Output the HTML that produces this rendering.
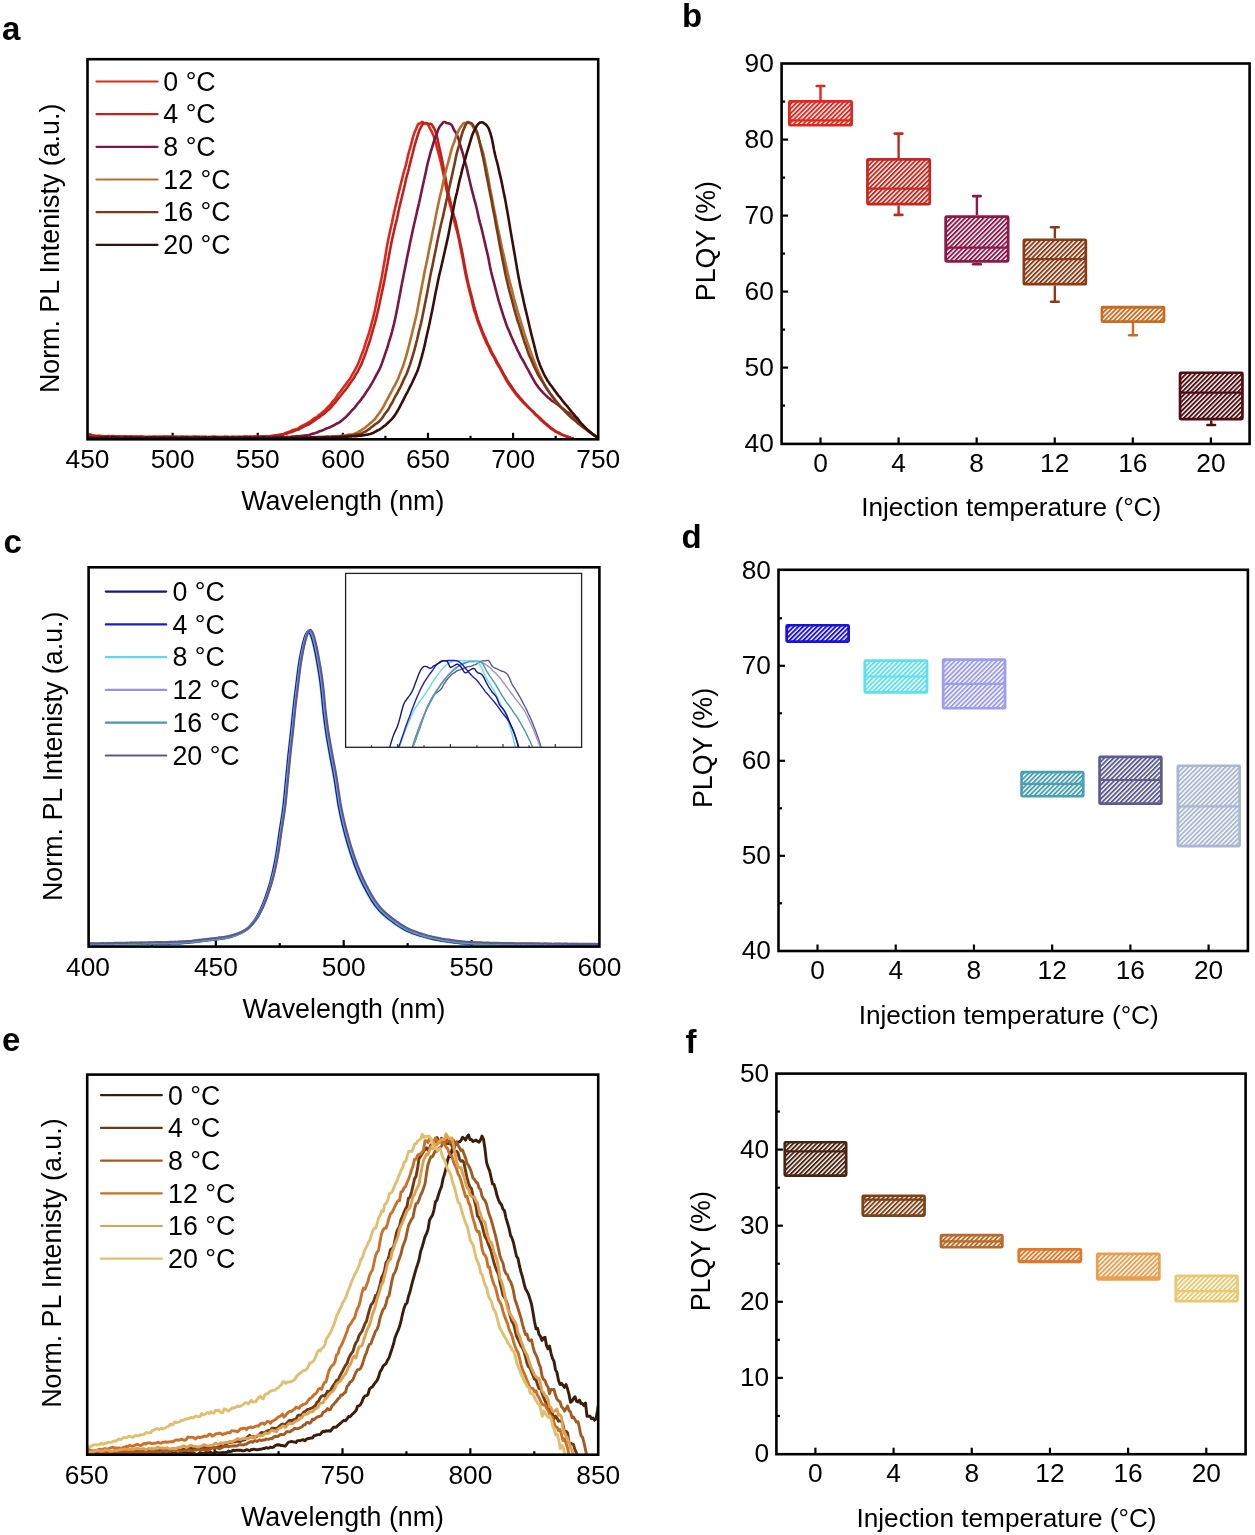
<!DOCTYPE html><html><head><meta charset="utf-8"><title>Figure</title><style>html,body{margin:0;padding:0;background:#fff;width:1255px;height:1535px;overflow:hidden}text{font-family:"Liberation Sans",sans-serif}svg{will-change:transform}</style></head><body><svg width="1255" height="1535" viewBox="0 0 1255 1535" font-family="'Liberation Sans', sans-serif" style="position:absolute;left:0;top:0"><rect width="1255" height="1535" fill="#fff"/><defs><clipPath id="ca"><rect x="87.5" y="59.2" width="510.7" height="379.1"/></clipPath><pattern id="h0" patternUnits="userSpaceOnUse" width="3.29" height="3.29" patternTransform="rotate(45)"><rect width="3.29" height="3.29" fill="#fff"/><rect x="0" y="0" width="1.91" height="3.29" fill="#e4261e"/></pattern><pattern id="h1" patternUnits="userSpaceOnUse" width="3.29" height="3.29" patternTransform="rotate(45)"><rect width="3.29" height="3.29" fill="#fff"/><rect x="0" y="0" width="1.91" height="3.29" fill="#c4281e"/></pattern><pattern id="h2" patternUnits="userSpaceOnUse" width="3.29" height="3.29" patternTransform="rotate(45)"><rect width="3.29" height="3.29" fill="#fff"/><rect x="0" y="0" width="1.91" height="3.29" fill="#8c1a48"/></pattern><pattern id="h3" patternUnits="userSpaceOnUse" width="3.29" height="3.29" patternTransform="rotate(45)"><rect width="3.29" height="3.29" fill="#fff"/><rect x="0" y="0" width="1.91" height="3.29" fill="#8a3c16"/></pattern><pattern id="h4" patternUnits="userSpaceOnUse" width="3.29" height="3.29" patternTransform="rotate(45)"><rect width="3.29" height="3.29" fill="#fff"/><rect x="0" y="0" width="1.91" height="3.29" fill="#c66e24"/></pattern><pattern id="h5" patternUnits="userSpaceOnUse" width="3.29" height="3.29" patternTransform="rotate(45)"><rect width="3.29" height="3.29" fill="#fff"/><rect x="0" y="0" width="1.91" height="3.29" fill="#4e0e12"/></pattern><clipPath id="cc"><rect x="88.6" y="567.3" width="510.8" height="378.3"/></clipPath><clipPath id="ci"><rect x="345.6" y="573.4" width="236" height="173.9"/></clipPath><pattern id="h6" patternUnits="userSpaceOnUse" width="3.29" height="3.29" patternTransform="rotate(45)"><rect width="3.29" height="3.29" fill="#fff"/><rect x="0" y="0" width="1.91" height="3.29" fill="#1a10e0"/></pattern><pattern id="h7" patternUnits="userSpaceOnUse" width="3.29" height="3.29" patternTransform="rotate(45)"><rect width="3.29" height="3.29" fill="#fff"/><rect x="0" y="0" width="1.91" height="3.29" fill="#60e0ec"/></pattern><pattern id="h8" patternUnits="userSpaceOnUse" width="3.29" height="3.29" patternTransform="rotate(45)"><rect width="3.29" height="3.29" fill="#fff"/><rect x="0" y="0" width="1.91" height="3.29" fill="#9c9cf0"/></pattern><pattern id="h9" patternUnits="userSpaceOnUse" width="3.29" height="3.29" patternTransform="rotate(45)"><rect width="3.29" height="3.29" fill="#fff"/><rect x="0" y="0" width="1.91" height="3.29" fill="#4aa0b0"/></pattern><pattern id="h10" patternUnits="userSpaceOnUse" width="3.29" height="3.29" patternTransform="rotate(45)"><rect width="3.29" height="3.29" fill="#fff"/><rect x="0" y="0" width="1.91" height="3.29" fill="#5c5c90"/></pattern><pattern id="h11" patternUnits="userSpaceOnUse" width="3.29" height="3.29" patternTransform="rotate(45)"><rect width="3.29" height="3.29" fill="#fff"/><rect x="0" y="0" width="1.91" height="3.29" fill="#a8b8d0"/></pattern><clipPath id="ce"><rect x="87.2" y="1074.6" width="511" height="379.1"/></clipPath><pattern id="h12" patternUnits="userSpaceOnUse" width="3.29" height="3.29" patternTransform="rotate(45)"><rect width="3.29" height="3.29" fill="#fff"/><rect x="0" y="0" width="1.91" height="3.29" fill="#4a2410"/></pattern><pattern id="h13" patternUnits="userSpaceOnUse" width="3.29" height="3.29" patternTransform="rotate(45)"><rect width="3.29" height="3.29" fill="#fff"/><rect x="0" y="0" width="1.91" height="3.29" fill="#7e4216"/></pattern><pattern id="h14" patternUnits="userSpaceOnUse" width="3.29" height="3.29" patternTransform="rotate(45)"><rect width="3.29" height="3.29" fill="#fff"/><rect x="0" y="0" width="1.91" height="3.29" fill="#b86a28"/></pattern><pattern id="h15" patternUnits="userSpaceOnUse" width="3.29" height="3.29" patternTransform="rotate(45)"><rect width="3.29" height="3.29" fill="#fff"/><rect x="0" y="0" width="1.91" height="3.29" fill="#e07828"/></pattern><pattern id="h16" patternUnits="userSpaceOnUse" width="3.29" height="3.29" patternTransform="rotate(45)"><rect width="3.29" height="3.29" fill="#fff"/><rect x="0" y="0" width="1.91" height="3.29" fill="#e8a050"/></pattern><pattern id="h17" patternUnits="userSpaceOnUse" width="3.29" height="3.29" patternTransform="rotate(45)"><rect width="3.29" height="3.29" fill="#fff"/><rect x="0" y="0" width="1.91" height="3.29" fill="#e8c870"/></pattern></defs><text x="2" y="40.3" font-size="33" text-anchor="start" font-weight="bold" fill="#000">a</text><text x="682" y="26.6" font-size="33" text-anchor="start" font-weight="bold" fill="#000">b</text><text x="3.5" y="552.5" font-size="33" text-anchor="start" font-weight="bold" fill="#000">c</text><text x="681.5" y="547.8" font-size="33" text-anchor="start" font-weight="bold" fill="#000">d</text><text x="2" y="1050.6" font-size="33" text-anchor="start" font-weight="bold" fill="#000">e</text><text x="685.5" y="1052.6" font-size="33" text-anchor="start" font-weight="bold" fill="#000">f</text><line x1="130.06" y1="439.3" x2="130.06" y2="435.8" stroke="#000" stroke-width="2.2" stroke-linecap="butt"/><line x1="172.62" y1="439.3" x2="172.62" y2="432.8" stroke="#000" stroke-width="2.2" stroke-linecap="butt"/><line x1="215.18" y1="439.3" x2="215.18" y2="435.8" stroke="#000" stroke-width="2.2" stroke-linecap="butt"/><line x1="257.73" y1="439.3" x2="257.73" y2="432.8" stroke="#000" stroke-width="2.2" stroke-linecap="butt"/><line x1="300.29" y1="439.3" x2="300.29" y2="435.8" stroke="#000" stroke-width="2.2" stroke-linecap="butt"/><line x1="342.85" y1="439.3" x2="342.85" y2="432.8" stroke="#000" stroke-width="2.2" stroke-linecap="butt"/><line x1="385.41" y1="439.3" x2="385.41" y2="435.8" stroke="#000" stroke-width="2.2" stroke-linecap="butt"/><line x1="427.97" y1="439.3" x2="427.97" y2="432.8" stroke="#000" stroke-width="2.2" stroke-linecap="butt"/><line x1="470.53" y1="439.3" x2="470.53" y2="435.8" stroke="#000" stroke-width="2.2" stroke-linecap="butt"/><line x1="513.08" y1="439.3" x2="513.08" y2="432.8" stroke="#000" stroke-width="2.2" stroke-linecap="butt"/><line x1="555.64" y1="439.3" x2="555.64" y2="435.8" stroke="#000" stroke-width="2.2" stroke-linecap="butt"/><path d="M88 434.25L89 434.42L90 434.35L91 434.73L92 435.3L93 435.59L94 435.75L95 435.85L96 435.85L97 435.85L98 435.81L99 435.71L100 435.79L101 435.96L102 436.08L103 436.29L104 436.48L105 436.47L106 436.39L107 436.34L108 436.17L109 436.12L110 436.28L111 436.26L112 436.05L113 436.07L114 436.26L115 436.39L116 436.54L117 436.58L118 436.53L119 436.57L120 436.6L121 436.61L122 436.61L123 436.52L124 436.44L125 436.5L126 436.61L127 436.58L128 436.62L129 436.79L130 436.7L131 436.63L132 436.8L133 436.9L134 436.81L135 436.77L136 436.66L137 436.57L138 436.78L139 436.88L140 436.76L141 436.62L142 436.46L143 436.44L144 436.65L145 436.79L146 436.77L147 436.85L148 436.93L149 436.9L150 436.97L151 436.95L152 436.79L153 436.72L154 436.66L155 436.78L156 436.86L157 436.72L158 436.68L159 436.75L160 436.81L161 436.8L162 436.8L163 436.82L164 436.77L165 436.76L166 436.91L167 436.94L168 436.77L169 436.84L170 437L171 436.83L172 436.75L173 436.87L174 436.97L175 436.97L176 436.89L177 436.96L178 437.11L179 437.06L180 436.97L181 437.02L182 436.85L183 436.66L184 436.77L185 436.92L186 436.98L187 437.05L188 437.09L189 437.04L190 437.09L191 437.06L192 436.72L193 436.61L194 436.74L195 436.65L196 436.55L197 436.69L198 436.7L199 436.7L200 437.04L201 437.29L202 437.2L203 437.02L204 436.92L205 436.88L206 436.91L207 436.95L208 436.98L209 437.04L210 437.15L211 437.24L212 437.1L213 436.75L214 436.68L215 436.88L216 436.96L217 437.01L218 437.05L219 437.07L220 437.13L221 437.12L222 437L223 436.99L224 437.12L225 437.15L226 437.12L227 437.13L228 437.13L229 437.05L230 436.98L231 436.91L232 436.8L233 436.79L234 436.85L235 436.82L236 436.92L237 437.07L238 436.89L239 436.93L240 437.12L241 436.99L242 436.96L243 436.97L244 436.77L245 436.55L246 436.55L247 436.75L248 436.73L249 436.57L250 436.64L251 436.77L252 436.86L253 436.79L254 436.62L255 436.61L256 436.75L257 437.01L258 437.11L259 436.82L260 436.62L261 436.59L262 436.54L263 436.52L264 436.46L265 436.3L266 436.17L267 436.22L268 436.25L269 436.2L270 436.19L271 436.04L272 435.87L273 435.74L274 435.51L275 435.52L276 435.48L277 435.11L278 434.9L279 434.91L280 434.8L281 434.5L282 434.23L283 434.02L284 433.61L285 433.15L286 432.88L287 432.53L288 432.11L289 431.81L290 431.49L291 431.06L292 430.48L293 429.95L294 429.65L295 429.53L296 429.27L297 428.83L298 428.35L299 427.81L300 427.13L301 426.43L302 425.97L303 425.5L304 424.88L305 424.4L306 424.05L307 423.38L308 422.62L309 422.14L310 421.51L311 420.75L312 420.1L313 419.32L314 418.44L315 417.88L316 417.49L317 416.87L318 415.99L319 415.05L320 414.29L321 413.67L322 412.88L323 411.85L324 410.99L325 410.29L326 409.29L327 408.09L328 406.95L329 405.99L330 405.15L331 403.94L332 402.42L333 401.17L334 400.29L335 399.19L336 397.8L337 396.18L338 394.44L339 393.13L340 392.06L341 390.77L342 389.38L343 387.94L344 386.61L345 385.38L346 384L347 382.64L348 381.31L349 379.96L350 378.65L351 377L352 375.03L353 373.28L354 371.69L355 369.91L356 367.94L357 366.06L358 364.04L359 361.57L360 358.93L361 356.31L362 353.71L363 351.21L364 348.37L365 345.04L366 341.94L367 338.96L368 335.93L369 332.82L370 329.33L371 325.62L372 322.04L373 318.45L374 314.4L375 310L376 305.16L377 299.97L378 295.07L379 290.52L380 285.9L381 280.97L382 275.73L383 270.13L384 264.3L385 258.41L386 252.14L387 245.94L388 240.86L389 236.24L390 231.3L391 226.95L392 222.5L393 217.54L394 212.84L395 208.46L396 204.36L397 199.89L398 195.4L399 191.39L400 187.34L401 183.3L402 179.41L403 175.31L404 171.37L405 168.15L406 164.64L407 160.12L408 155.6L409 151.88L410 148.49L411 144.82L412 140.87L413 137.07L414 133.87L415 131.34L416 129.18L417 126.61L418 124.37L419 123.63L420 123.45L421 122.68L422 121.8L423 122.41L424 123.38L425 123.53L426 123.19L427 123.29L428 124.59L429 126.47L430 128.51L431 130.36L432 132.19L433 134.48L434 136.88L435 139.98L436 143.83L437 147.61L438 151.36L439 155.33L440 159.13L441 163.05L442 167.59L443 172.16L444 176.72L445 181.84L446 187.36L447 191.86L448 195.81L449 200.43L450 204.64L451 208.27L452 212.47L453 216.67L454 220.2L455 223.95L456 227.83L457 231.36L458 235.21L459 239.77L460 245.04L461 250.3L462 255.13L463 260.29L464 265.86L465 271.21L466 276.22L467 280.74L468 284.91L469 289.12L470 293.15L471 296.93L472 301.02L473 305.61L474 309.71L475 312.66L476 315.4L477 318.81L478 321.98L479 324.48L480 327.12L481 329.8L482 332.22L483 334.8L484 337.39L485 339.58L486 341.88L487 344.18L488 345.85L489 347.68L490 350.21L491 352.5L492 354.22L493 355.8L494 357.42L495 359.41L496 361.71L497 363.67L498 365.24L499 366.74L500 368.39L501 370.2L502 372.18L503 374.17L504 375.9L505 377.7L506 379.66L507 381.39L508 382.97L509 384.55L510 385.89L511 387.17L512 388.71L513 390.17L514 391.52L515 392.84L516 394.16L517 395.49L518 396.63L519 397.76L520 398.91L521 400.03L522 401.23L523 402.37L524 403.32L525 404.13L526 405.05L527 406.14L528 407.11L529 407.94L530 408.91L531 409.94L532 410.94L533 412.03L534 413.2L535 414.28L536 415.16L537 415.9L538 416.79L539 417.98L540 419.24L541 420.16L542 420.87L543 421.91L544 422.89L545 423.51L546 424.38L547 425.46L548 426.19L549 426.9L550 427.87L551 428.7L552 429.23L553 429.72L554 430.49L555 431.33L556 431.93L557 432.4L558 432.92L559 433.46L560 433.91L561 434.39L562 434.76L563 435.16L564 435.64L565 435.89L566 436.23L567 436.64L568 436.83L569 437.11L570 437.58L571 437.94L572 438.24L573 438.54" fill="none" stroke="#e0271d" stroke-width="2.6" stroke-linejoin="round" stroke-linecap="round" clip-path="url(#ca)"/><path d="M88 434.81L89 434.94L90 435.27L91 435.63L92 435.86L93 435.87L94 435.81L95 435.91L96 436.2L97 436.38L98 436.22L99 436L100 436.14L101 436.43L102 436.33L103 436.13L104 436.18L105 436.21L106 436.24L107 436.3L108 436.38L109 436.5L110 436.49L111 436.46L112 436.6L113 436.58L114 436.39L115 436.38L116 436.44L117 436.44L118 436.45L119 436.56L120 436.63L121 436.56L122 436.5L123 436.5L124 436.45L125 436.49L126 436.6L127 436.68L128 436.87L129 436.79L130 436.58L131 436.62L132 436.67L133 436.73L134 436.69L135 436.55L136 436.65L137 436.84L138 436.87L139 436.8L140 436.8L141 436.74L142 436.7L143 436.83L144 437.04L145 437.19L146 437.26L147 437.17L148 437.09L149 437.02L150 436.87L151 436.94L152 437.05L153 436.96L154 436.91L155 436.96L156 436.97L157 436.91L158 436.9L159 436.96L160 436.91L161 436.89L162 436.91L163 436.76L164 436.63L165 436.77L166 436.97L167 436.91L168 436.74L169 436.78L170 436.88L171 436.78L172 436.78L173 436.89L174 436.84L175 436.86L176 436.92L177 436.92L178 437.03L179 437.11L180 436.92L181 436.68L182 436.66L183 436.82L184 436.95L185 436.97L186 436.92L187 436.86L188 436.84L189 436.89L190 436.96L191 436.96L192 437.1L193 437.27L194 437.08L195 436.94L196 437.14L197 437.09L198 436.96L199 437.06L200 437.02L201 436.88L202 436.82L203 436.84L204 437.01L205 437.12L206 437.05L207 437.15L208 437.18L209 436.98L210 436.93L211 436.91L212 436.78L213 436.8L214 436.95L215 437.01L216 436.95L217 437.01L218 437.1L219 437.12L220 437.14L221 437.13L222 437.19L223 437.28L224 437.18L225 437.08L226 437.01L227 436.88L228 436.92L229 437.09L230 437.19L231 437.2L232 436.97L233 436.9L234 437.18L235 437.15L236 436.97L237 437.06L238 436.92L239 436.69L240 436.74L241 436.94L242 437.05L243 436.91L244 436.83L245 436.85L246 436.79L247 436.79L248 436.95L249 437.09L250 436.99L251 436.74L252 436.69L253 436.77L254 436.74L255 436.61L256 436.69L257 436.99L258 436.95L259 436.74L260 436.85L261 436.76L262 436.4L263 436.37L264 436.53L265 436.58L266 436.5L267 436.41L268 436.49L269 436.71L270 436.64L271 436.21L272 436.13L273 436.23L274 435.91L275 435.64L276 435.64L277 435.63L278 435.54L279 435.25L280 434.98L281 434.88L282 434.87L283 434.75L284 434.33L285 433.84L286 433.7L287 433.63L288 433.14L289 432.59L290 432.38L291 432.27L292 431.94L293 431.46L294 431.13L295 430.75L296 430.17L297 429.83L298 429.67L299 429.28L300 428.67L301 428.14L302 427.66L303 427.08L304 426.46L305 425.92L306 425.46L307 425.17L308 424.81L309 424.14L310 423.57L311 422.99L312 422.27L313 421.5L314 420.66L315 420.14L316 419.51L317 418.51L318 417.91L319 417.51L320 416.69L321 415.78L322 415.05L323 414.39L324 413.74L325 412.93L326 411.94L327 411.02L328 410.27L329 409.5L330 408.48L331 407.36L332 406.12L333 404.82L334 403.79L335 402.84L336 401.59L337 400.12L338 398.83L339 397.75L340 396.54L341 395.21L342 393.96L343 392.75L344 391.54L345 390.32L346 389.08L347 387.78L348 386.3L349 384.76L350 383.4L351 382.06L352 380.62L353 379.29L354 377.79L355 375.84L356 374.12L357 372.73L358 371.05L359 368.99L360 366.96L361 365.11L362 362.85L363 360.16L364 357.53L365 354.91L366 352.1L367 349.07L368 346.13L369 343.29L370 340.09L371 336.71L372 333.12L373 329.48L374 326.24L375 322.78L376 318.89L377 314.79L378 310.53L379 306.21L380 301.45L381 296.53L382 291.86L383 287.35L384 282.62L385 277.26L386 271.91L387 266.72L388 261.25L389 255.85L390 250.28L391 244.66L392 239.74L393 235.43L394 231.03L395 226.55L396 222.62L397 218.61L398 213.81L399 209.09L400 204.82L401 200.72L402 196.73L403 192.49L404 188.29L405 183.95L406 179.1L407 175.23L408 172.12L409 168.06L410 163.58L411 159.69L412 156.04L413 152.04L414 147.83L415 144.01L416 140.76L417 137.59L418 134.35L419 131.38L420 128.84L421 127.03L422 125.41L423 123.59L424 122.94L425 123.17L426 123.14L427 123.35L428 123.79L429 124.01L430 123.76L431 123.73L432 124.93L433 126.49L434 128.16L435 130.31L436 132.86L437 136.52L438 141.31L439 146.01L440 150.33L441 154.72L442 159.64L443 164.84L444 170.17L445 175.56L446 180.95L447 186.4L448 191.56L449 196.09L450 200.18L451 204.41L452 208.71L453 212.64L454 216.12L455 219.26L456 223.21L457 228.07L458 232.79L459 237.3L460 241.75L461 246.41L462 251.27L463 256.52L464 262.14L465 267.53L466 272.74L467 277.68L468 282.2L469 286.39L470 290.26L471 294.09L472 297.98L473 302.1L474 306.09L475 309.61L476 313.12L477 316.49L478 319.57L479 322.35L480 324.91L481 327.8L482 330.53L483 332.74L484 334.98L485 337.36L486 339.62L487 341.92L488 344.26L489 346.11L490 348.06L491 350.52L492 352.59L493 354.35L494 356.13L495 357.85L496 359.73L497 361.78L498 363.74L499 365.52L500 367.16L501 368.84L502 370.77L503 372.87L504 374.67L505 376.15L506 377.86L507 379.81L508 381.54L509 382.95L510 384.28L511 385.79L512 387.39L513 388.77L514 390.12L515 391.7L516 393.09L517 394.17L518 395.25L519 396.63L520 397.9L521 398.86L522 400.1L523 401.32L524 402.35L525 403.46L526 404.58L527 405.72L528 406.73L529 407.78L530 408.93L531 409.91L532 410.68L533 411.36L534 412.33L535 413.55L536 414.57L537 415.45L538 416.33L539 417.17L540 418.08L541 419.02L542 420L543 420.89L544 421.77L545 422.86L546 423.83L547 424.45L548 425.26L549 426.23L550 427.08L551 427.94L552 428.62L553 429.23L554 430.04L555 430.83L556 431.4L557 431.89L558 432.3L559 432.62L560 433.26L561 434.07L562 434.6L563 435L564 435.37L565 435.72L566 436.1L567 436.48L568 436.88L569 437.21L570 437.58L571 437.96L572 438.26L573 438.56" fill="none" stroke="#c2211b" stroke-width="2.6" stroke-linejoin="round" stroke-linecap="round" clip-path="url(#ca)"/><path d="M88 437.11L89 437.24L90 437.44L91 437.29L92 437.04L93 437.07L94 437.14L95 437.09L96 437.04L97 437.16L98 437.36L99 437.45L100 437.39L101 437.21L102 437.21L103 437.29L104 437.2L105 437.23L106 437.2L107 437.06L108 437.05L109 437.13L110 437.23L111 437.34L112 437.3L113 437.1L114 437.07L115 437.18L116 437.15L117 437.01L118 437.08L119 437.16L120 437.14L121 437.29L122 437.4L123 437.45L124 437.37L125 437.14L126 437.08L127 437.23L128 437.39L129 437.37L130 437.19L131 437.09L132 437.09L133 437.12L134 437.19L135 437.36L136 437.48L137 437.31L138 437.23L139 437.25L140 437.16L141 437.16L142 437.3L143 437.29L144 437.24L145 437.34L146 437.33L147 437.33L148 437.43L149 437.48L150 437.46L151 437.36L152 437.31L153 437.25L154 437.25L155 437.32L156 437.18L157 437.2L158 437.45L159 437.32L160 437.24L161 437.42L162 437.43L163 437.34L164 437.23L165 437.1L166 436.94L167 436.88L168 437.04L169 437.27L170 437.53L171 437.58L172 437.37L173 437.31L174 437.27L175 437.14L176 437L177 436.96L178 437.03L179 437.09L180 437.17L181 437.28L182 437.41L183 437.4L184 437.39L185 437.48L186 437.43L187 437.32L188 437.27L189 437.34L190 437.47L191 437.48L192 437.44L193 437.38L194 437.31L195 437.24L196 437.24L197 437.38L198 437.4L199 437.36L200 437.38L201 437.32L202 437.34L203 437.44L204 437.33L205 437.22L206 437.19L207 437.22L208 437.39L209 437.38L210 437.43L211 437.72L212 437.72L213 437.49L214 437.45L215 437.58L216 437.57L217 437.4L218 437.38L219 437.48L220 437.46L221 437.45L222 437.35L223 437.14L224 436.96L225 436.9L226 437.19L227 437.38L228 437.32L229 437.45L230 437.5L231 437.36L232 437.3L233 437.26L234 437.18L235 437.21L236 437.31L237 437.42L238 437.39L239 437.31L240 437.31L241 437.24L242 437.25L243 437.33L244 437.31L245 437.3L246 437.29L247 437.21L248 437.17L249 437.29L250 437.4L251 437.47L252 437.54L253 437.26L254 436.91L255 437.16L256 437.47L257 437.36L258 437.17L259 437.22L260 437.44L261 437.51L262 437.43L263 437.43L264 437.5L265 437.34L266 437.16L267 437.24L268 437.26L269 437.23L270 437.26L271 437.03L272 436.88L273 437.21L274 437.34L275 437.13L276 437.05L277 437L278 436.93L279 436.98L280 436.99L281 436.88L282 436.8L283 436.88L284 437.12L285 437.18L286 437.04L287 436.84L288 436.78L289 436.96L290 436.95L291 436.74L292 436.64L293 436.46L294 436.46L295 436.48L296 436.21L297 436.1L298 436.25L299 436.25L300 436.12L301 436L302 435.87L303 435.82L304 435.63L305 435.42L306 435.29L307 435.22L308 435.25L309 435.11L310 434.7L311 434.24L312 433.85L313 433.62L314 433.43L315 433.14L316 432.79L317 432.46L318 432.02L319 431.43L320 431.08L321 430.95L322 430.56L323 430.07L324 429.69L325 429.17L326 428.58L327 428.15L328 427.92L329 427.62L330 427.23L331 426.75L332 426.18L333 425.72L334 425.27L335 424.63L336 424L337 423.52L338 423.05L339 422.56L340 421.93L341 421.12L342 420.29L343 419.41L344 418.57L345 417.8L346 416.98L347 415.88L348 414.72L349 413.73L350 412.66L351 411.46L352 410.26L353 409.32L354 408.5L355 407.31L356 405.93L357 404.49L358 403.18L359 402.07L360 400.92L361 399.6L362 398.16L363 396.95L364 395.61L365 394L366 392.46L367 390.9L368 389.42L369 388.09L370 386.54L371 384.71L372 383.08L373 381.43L374 379.49L375 377.62L376 375.71L377 373.83L378 372.05L379 370.22L380 368.21L381 365.81L382 363.08L383 360.2L384 357.36L385 354.36L386 351.37L387 348.6L388 345.3L389 341.75L390 338.54L391 335.38L392 331.79L393 327.81L394 323.87L395 319.48L396 314.67L397 309.83L398 304.55L399 299.15L400 293.9L401 288.48L402 283.26L403 278.16L404 273L405 268.15L406 263.17L407 257.9L408 253.13L409 248.48L410 243.32L411 238.53L412 234L413 229.35L414 224.83L415 220.44L416 216.21L417 211.72L418 207.34L419 203.32L420 198.81L421 193.97L422 189.25L423 184.7L424 180.25L425 175.87L426 171.2L427 166.18L428 162.01L429 158.39L430 154.46L431 150.97L432 147.81L433 144.4L434 141.1L435 138.4L436 136.01L437 133.02L438 130.01L439 127.87L440 126.19L441 125.01L442 123.81L443 122.6L444 122L445 121.99L446 122.67L447 122.99L448 123.2L449 123.59L450 123.81L451 124.48L452 125.56L453 127.48L454 129.93L455 131.4L456 132.98L457 134.99L458 137.07L459 140.54L460 144.24L461 147.58L462 150.92L463 154.09L464 158.1L465 161.98L466 165.1L467 169.07L468 173.75L469 178.05L470 182.21L471 186.58L472 190.58L473 194.32L474 198.27L475 201.95L476 205.43L477 209.69L478 214.46L479 218.91L480 222.84L481 226.33L482 230.33L483 234.74L484 238.98L485 243.36L486 247.72L487 251.82L488 256.1L489 261.25L490 266.6L491 271.28L492 275.4L493 279.18L494 282.85L495 286.68L496 290.61L497 294.4L498 298.22L499 301.79L500 304.97L501 308.14L502 311.37L503 314.67L504 317.67L505 320.52L506 323.55L507 326.36L508 328.67L509 330.81L510 333.2L511 335.67L512 337.93L513 340.18L514 342.58L515 344.77L516 346.8L517 349.1L518 351.14L519 352.88L520 355.14L521 357.23L522 358.8L523 360.47L524 362.24L525 364.17L526 366.11L527 367.9L528 369.6L529 371.41L530 373.32L531 375.17L532 377.03L533 378.83L534 380.54L535 382.36L536 383.93L537 385.26L538 386.8L539 388.15L540 389.2L541 390.29L542 391.43L543 392.6L544 393.64L545 394.6L546 395.6L547 396.49L548 397.46L549 398.28L550 398.93L551 399.97L552 400.87L553 401.38L554 402.02L555 402.73L556 403.41L557 404.08L558 404.83L559 405.72L560 406.5L561 407.23L562 408.11L563 408.89L564 409.48L565 410.25L566 411.31L567 412.01L568 412.41L569 413.22L570 414.37L571 415.52L572 416.45L573 417.18L574 418.08L575 418.94L576 419.73L577 420.69L578 421.63L579 422.51L580 423.33L581 424.06L582 424.96L583 425.99L584 426.91L585 427.8L586 428.7L587 429.37L588 430.04L589 430.91L590 431.78L591 432.65L592 433.52L593 434.28L594 434.99L595 435.61L596 436.24L597 436.94L598 437.53" fill="none" stroke="#7c1643" stroke-width="2.6" stroke-linejoin="round" stroke-linecap="round" clip-path="url(#ca)"/><path d="M88 437.6L89 437.33L90 437.36L91 437.43L92 437.39L93 437.32L94 437.22L95 437.29L96 437.59L97 437.88L98 437.71L99 437.45L100 437.4L101 437.33L102 437.3L103 437.42L104 437.52L105 437.56L106 437.59L107 437.54L108 437.59L109 437.73L110 437.63L111 437.46L112 437.48L113 437.68L114 437.76L115 437.57L116 437.52L117 437.55L118 437.43L119 437.46L120 437.63L121 437.63L122 437.59L123 437.41L124 437.25L125 437.39L126 437.34L127 437.25L128 437.47L129 437.58L130 437.42L131 437.34L132 437.43L133 437.58L134 437.72L135 437.69L136 437.64L137 437.64L138 437.49L139 437.41L140 437.55L141 437.6L142 437.46L143 437.4L144 437.32L145 437.25L146 437.46L147 437.5L148 437.33L149 437.34L150 437.43L151 437.41L152 437.24L153 437.3L154 437.6L155 437.55L156 437.27L157 437.32L158 437.47L159 437.54L160 437.59L161 437.47L162 437.4L163 437.48L164 437.61L165 437.56L166 437.34L167 437.37L168 437.65L169 437.75L170 437.71L171 437.71L172 437.57L173 437.39L174 437.31L175 437.44L176 437.53L177 437.37L178 437.31L179 437.44L180 437.54L181 437.51L182 437.27L183 437.21L184 437.47L185 437.7L186 437.68L187 437.55L188 437.49L189 437.5L190 437.54L191 437.54L192 437.46L193 437.46L194 437.53L195 437.58L196 437.72L197 437.93L198 437.94L199 437.65L200 437.32L201 437.29L202 437.44L203 437.39L204 437.32L205 437.57L206 437.63L207 437.34L208 437.25L209 437.34L210 437.5L211 437.71L212 437.78L213 437.65L214 437.59L215 437.68L216 437.78L217 437.79L218 437.65L219 437.44L220 437.36L221 437.48L222 437.68L223 437.66L224 437.47L225 437.45L226 437.49L227 437.38L228 437.37L229 437.66L230 437.82L231 437.59L232 437.34L233 437.24L234 437.29L235 437.54L236 437.64L237 437.58L238 437.55L239 437.54L240 437.43L241 437.29L242 437.35L243 437.44L244 437.38L245 437.34L246 437.35L247 437.46L248 437.56L249 437.49L250 437.51L251 437.63L252 437.74L253 437.62L254 437.4L255 437.45L256 437.5L257 437.54L258 437.68L259 437.75L260 437.71L261 437.68L262 437.69L263 437.56L264 437.51L265 437.56L266 437.62L267 437.8L268 437.9L269 437.83L270 437.61L271 437.46L272 437.54L273 437.57L274 437.5L275 437.51L276 437.62L277 437.66L278 437.58L279 437.55L280 437.42L281 437.3L282 437.28L283 437.32L284 437.51L285 437.65L286 437.62L287 437.69L288 437.76L289 437.65L290 437.52L291 437.38L292 437.33L293 437.38L294 437.37L295 437.47L296 437.61L297 437.64L298 437.51L299 437.42L300 437.46L301 437.44L302 437.44L303 437.47L304 437.45L305 437.38L306 437.32L307 437.22L308 437.12L309 437.15L310 437.26L311 437.47L312 437.4L313 437.11L314 437.12L315 437.12L316 437.05L317 437.09L318 436.94L319 436.76L320 436.83L321 436.91L322 436.82L323 436.74L324 436.85L325 436.81L326 436.56L327 436.49L328 436.51L329 436.58L330 436.7L331 436.52L332 436.23L333 436.17L334 436.36L335 436.49L336 436.27L337 436.11L338 436.07L339 436.09L340 436.08L341 435.86L342 435.71L343 435.64L344 435.44L345 435.31L346 435.33L347 435.15L348 434.85L349 434.61L350 434.5L351 434.54L352 434.45L353 434.21L354 433.91L355 433.47L356 433L357 432.59L358 432.07L359 431.49L360 431.01L361 430.46L362 429.68L363 428.93L364 428.41L365 427.77L366 426.82L367 425.91L368 425.2L369 424.36L370 423.35L371 422.64L372 421.91L373 420.94L374 420.05L375 418.91L376 417.55L377 416.18L378 414.7L379 413.45L380 412.17L381 410.59L382 409.04L383 407.37L384 405.6L385 403.6L386 401.52L387 399.83L388 398.13L389 396.1L390 394.21L391 392.5L392 390.51L393 388.45L394 386.74L395 385L396 382.99L397 381.06L398 378.97L399 376.39L400 373.65L401 371.12L402 368.77L403 366.21L404 363.23L405 359.98L406 356.57L407 353.06L408 349.37L409 345.47L410 341.39L411 337.36L412 333.41L413 329.26L414 325.17L415 321.07L416 316.74L417 312.2L418 306.85L419 301.23L420 296.09L421 290.8L422 285.55L423 280.59L424 275.05L425 269.7L426 265.2L427 260.61L428 255.69L429 250.33L430 245.27L431 240.61L432 235.44L433 230.55L434 225.81L435 220.47L436 215.17L437 210.32L438 205.44L439 200.53L440 196.16L441 192.23L442 188L443 183.02L444 178.43L445 174.54L446 170.5L447 166.57L448 162.98L449 159.3L450 155.37L451 151.39L452 147.61L453 145.02L454 142.78L455 139.56L456 136.4L457 133.97L458 131.99L459 129.72L460 127.72L461 126.55L462 125.35L463 123.93L464 123.06L465 123.11L466 122.98L467 122.52L468 122.43L469 122.8L470 123.23L471 123.78L472 125.08L473 126.82L474 128.74L475 130.52L476 131.78L477 133.51L478 136.57L479 139.84L480 142.85L481 146L482 149.21L483 152.62L484 156.84L485 161.82L486 166.57L487 171.17L488 176.33L489 182.26L490 188.21L491 193.21L492 198.07L493 203.61L494 208.95L495 213.87L496 218.88L497 223.91L498 228.8L499 233.45L500 238.16L501 243.1L502 247.97L503 252.34L504 256.43L505 261.16L506 265.86L507 270.01L508 274.34L509 278.66L510 282.57L511 286.3L512 290.33L513 294.56L514 298.42L515 301.91L516 305.46L517 309.19L518 312.7L519 315.76L520 319.03L521 322.49L522 325.68L523 328.92L524 332.31L525 335.42L526 338.41L527 341.4L528 344.28L529 347.2L530 349.92L531 352.77L532 355.81L533 358.43L534 360.9L535 363.54L536 366.14L537 368.5L538 370.86L539 373.17L540 375.19L541 377.24L542 379.49L543 381.79L544 383.87L545 385.65L546 387.22L547 388.84L548 390.47L549 391.97L550 393.53L551 394.93L552 396.13L553 397.47L554 398.96L555 400.59L556 401.89L557 402.76L558 403.58L559 404.58L560 405.89L561 407.06L562 408.1L563 409.17L564 410.1L565 411.17L566 412.22L567 413.18L568 414.36L569 415.31L570 415.91L571 416.8L572 417.94L573 418.79L574 419.52L575 420.44L576 421.38L577 422.29L578 423.21L579 424.13L580 425.06L581 425.84L582 426.53L583 427.32L584 428.1L585 428.67L586 429.26L587 430.09L588 430.96L589 431.74L590 432.39L591 433.05L592 433.84L593 434.57L594 435.1L595 435.63L596 436.26L597 436.86L598 437.49" fill="none" stroke="#b66f2c" stroke-width="2.6" stroke-linejoin="round" stroke-linecap="round" clip-path="url(#ca)"/><path d="M88 437.59L89 437.52L90 437.36L91 437.38L92 437.74L93 437.84L94 437.68L95 437.69L96 437.65L97 437.61L98 437.67L99 437.6L100 437.49L101 437.51L102 437.6L103 437.65L104 437.62L105 437.57L106 437.52L107 437.55L108 437.66L109 437.7L110 437.68L111 437.61L112 437.55L113 437.76L114 437.8L115 437.42L116 437.19L117 437.36L118 437.62L119 437.74L120 437.79L121 437.77L122 437.69L123 437.64L124 437.65L125 437.63L126 437.49L127 437.49L128 437.72L129 437.79L130 437.55L131 437.38L132 437.52L133 437.67L134 437.71L135 437.63L136 437.52L137 437.69L138 437.71L139 437.5L140 437.61L141 437.77L142 437.75L143 437.88L144 437.98L145 437.77L146 437.53L147 437.53L148 437.62L149 437.6L150 437.56L151 437.62L152 437.61L153 437.41L154 437.19L155 437.28L156 437.6L157 437.78L158 437.79L159 437.65L160 437.54L161 437.61L162 437.54L163 437.38L164 437.52L165 437.79L166 437.78L167 437.66L168 437.55L169 437.55L170 437.66L171 437.6L172 437.49L173 437.48L174 437.49L175 437.64L176 437.7L177 437.66L178 437.68L179 437.62L180 437.53L181 437.49L182 437.52L183 437.56L184 437.5L185 437.44L186 437.42L187 437.36L188 437.34L189 437.49L190 437.69L191 437.78L192 437.89L193 437.97L194 437.76L195 437.68L196 437.74L197 437.65L198 437.6L199 437.56L200 437.46L201 437.43L202 437.58L203 437.58L204 437.57L205 437.8L206 437.8L207 437.61L208 437.51L209 437.54L210 437.62L211 437.73L212 437.7L213 437.53L214 437.46L215 437.41L216 437.36L217 437.44L218 437.59L219 437.76L220 437.76L221 437.62L222 437.59L223 437.71L224 437.83L225 437.75L226 437.6L227 437.46L228 437.45L229 437.55L230 437.59L231 437.52L232 437.47L233 437.53L234 437.64L235 437.74L236 437.74L237 437.63L238 437.52L239 437.51L240 437.49L241 437.49L242 437.55L243 437.58L244 437.66L245 437.75L246 437.72L247 437.54L248 437.37L249 437.4L250 437.39L251 437.37L252 437.55L253 437.6L254 437.61L255 437.74L256 437.76L257 437.61L258 437.51L259 437.6L260 437.61L261 437.58L262 437.71L263 437.61L264 437.39L265 437.41L266 437.52L267 437.71L268 437.7L269 437.46L270 437.43L271 437.54L272 437.67L273 437.82L274 437.77L275 437.65L276 437.53L277 437.4L278 437.57L279 437.72L280 437.59L281 437.54L282 437.75L283 437.89L284 437.68L285 437.56L286 437.59L287 437.49L288 437.51L289 437.62L290 437.63L291 437.63L292 437.73L293 437.61L294 437.28L295 437.23L296 437.52L297 437.75L298 437.7L299 437.6L300 437.62L301 437.7L302 437.71L303 437.6L304 437.57L305 437.77L306 437.76L307 437.67L308 437.85L309 437.8L310 437.47L311 437.37L312 437.59L313 437.66L314 437.42L315 437.37L316 437.53L317 437.48L318 437.57L319 437.92L320 437.94L321 437.63L322 437.41L323 437.24L324 437.06L325 437.08L326 437.04L327 436.86L328 436.88L329 437.05L330 437.08L331 437.05L332 436.99L333 436.74L334 436.5L335 436.44L336 436.6L337 436.72L338 436.67L339 436.54L340 436.34L341 436.23L342 436.14L343 436.18L344 436.4L345 436.28L346 435.92L347 435.77L348 435.67L349 435.54L350 435.47L351 435.3L352 435.13L353 435L354 434.83L355 434.58L356 434.37L357 434.27L358 434.17L359 434.01L360 433.88L361 433.7L362 433.24L363 432.69L364 432.18L365 431.69L366 431.26L367 430.57L368 429.78L369 429.28L370 428.52L371 427.47L372 426.78L373 426.08L374 425.18L375 424.39L376 423.74L377 423.09L378 422.46L379 421.69L380 420.58L381 419.45L382 418.27L383 416.88L384 415.31L385 413.77L386 412.51L387 411.33L388 409.89L389 408.14L390 406.24L391 404.46L392 402.92L393 401.11L394 399L395 396.99L396 395.2L397 393.54L398 391.65L399 389.64L400 387.79L401 385.84L402 383.65L403 381.39L404 379.15L405 377.04L406 375.23L407 372.96L408 370.04L409 367.36L410 364.58L411 361.4L412 358.12L413 354.8L414 351.39L415 347.64L416 343.83L417 339.98L418 335.64L419 331.25L420 327.32L421 323.37L422 318.83L423 313.86L424 308.73L425 303.78L426 298.75L427 293.64L428 288.55L429 283.06L430 277.49L431 272.51L432 267.9L433 262.99L434 257.98L435 253.11L436 248.35L437 243.33L438 238.17L439 233.61L440 229.07L441 224.45L442 220.47L443 216.4L444 211.78L445 207.12L446 202.51L447 197.93L448 193.51L449 189.06L450 184.5L451 179.94L452 175.65L453 171.09L454 166.27L455 161.67L456 156.69L457 152.28L458 148.94L459 145.49L460 141.5L461 137.47L462 133.97L463 130.95L464 128.47L465 126.32L466 124.25L467 122.68L468 122.16L469 122.55L470 122.95L471 123.04L472 123.61L473 125.23L474 126.98L475 128.33L476 129.9L477 132.13L478 135.37L479 139.59L480 144.24L481 148.54L482 152.63L483 157.08L484 161.73L485 166.9L486 172.63L487 177.64L488 182.53L489 188.11L490 193.1L491 197.88L492 203.34L493 208.69L494 213.68L495 219L496 224.91L497 230.26L498 235.25L499 240.96L500 246.51L501 251.57L502 256.78L503 261.87L504 266.8L505 271.99L506 276.82L507 280.98L508 285.25L509 289.4L510 293.16L511 296.84L512 300.45L513 304.21L514 308.05L515 311.54L516 315.12L517 318.76L518 321.72L519 324.63L520 327.76L521 331L522 334.27L523 337.34L524 340.55L525 343.47L526 346.16L527 349.06L528 352.07L529 354.98L530 357.3L531 359.36L532 361.63L533 364.06L534 366.42L535 368.48L536 370.45L537 372.49L538 374.61L539 376.45L540 377.86L541 379.42L542 381.02L543 382.48L544 384.04L545 385.76L546 387.45L547 388.86L548 390.26L549 391.81L550 393.21L551 394.53L552 395.85L553 397.16L554 398.6L555 399.91L556 400.96L557 402.23L558 403.69L559 405.1L560 406.32L561 407.24L562 408.2L563 409.25L564 410.35L565 411.39L566 412.24L567 413.23L568 414.27L569 415.27L570 416.3L571 417.3L572 418.16L573 418.91L574 419.61L575 420.34L576 421.21L577 422.18L578 423.12L579 423.81L580 424.55L581 425.44L582 426.16L583 426.87L584 427.76L585 428.45L586 428.95L587 429.76L588 430.72L589 431.43L590 432.07L591 432.92L592 433.77L593 434.4L594 435.1L595 435.75L596 436.28L597 436.88L598 437.47" fill="none" stroke="#7a3a18" stroke-width="2.6" stroke-linejoin="round" stroke-linecap="round" clip-path="url(#ca)"/><path d="M88 437.79L89 437.84L90 437.71L91 437.61L92 437.76L93 437.78L94 437.7L95 437.76L96 437.8L97 437.76L98 437.76L99 437.72L100 437.63L101 437.6L102 437.67L103 437.75L104 437.72L105 437.62L106 437.57L107 437.62L108 437.67L109 437.75L110 437.91L111 437.74L112 437.31L113 437.28L114 437.53L115 437.65L116 437.71L117 437.87L118 437.91L119 437.67L120 437.71L121 437.97L122 437.95L123 437.79L124 437.57L125 437.47L126 437.62L127 437.65L128 437.51L129 437.53L130 437.59L131 437.57L132 437.63L133 437.71L134 437.68L135 437.68L136 437.8L137 437.87L138 437.74L139 437.66L140 437.71L141 437.74L142 437.71L143 437.68L144 437.75L145 437.68L146 437.52L147 437.59L148 437.7L149 437.68L150 437.53L151 437.51L152 437.63L153 437.67L154 437.75L155 437.71L156 437.56L157 437.71L158 437.85L159 437.69L160 437.63L161 437.76L162 437.83L163 437.81L164 437.62L165 437.49L166 437.57L167 437.69L168 437.78L169 437.67L170 437.43L171 437.5L172 437.78L173 437.8L174 437.66L175 437.69L176 437.78L177 437.84L178 437.85L179 437.78L180 437.69L181 437.73L182 437.68L183 437.48L184 437.54L185 437.61L186 437.54L187 437.61L188 437.69L189 437.76L190 437.78L191 437.85L192 437.92L193 437.77L194 437.52L195 437.57L196 437.82L197 437.75L198 437.62L199 437.66L200 437.74L201 437.8L202 437.76L203 437.66L204 437.64L205 437.65L206 437.64L207 437.81L208 437.84L209 437.45L210 437.33L211 437.78L212 437.99L213 437.66L214 437.52L215 437.64L216 437.6L217 437.56L218 437.66L219 437.72L220 437.7L221 437.7L222 437.64L223 437.56L224 437.55L225 437.56L226 437.57L227 437.49L228 437.58L229 437.81L230 437.78L231 437.72L232 437.73L233 437.67L234 437.67L235 437.76L236 437.69L237 437.62L238 437.69L239 437.61L240 437.47L241 437.5L242 437.7L243 437.81L244 437.66L245 437.51L246 437.44L247 437.62L248 437.8L249 437.69L250 437.62L251 437.73L252 437.84L253 437.95L254 438L255 437.81L256 437.63L257 437.64L258 437.69L259 437.71L260 437.71L261 437.62L262 437.55L263 437.66L264 437.61L265 437.56L266 437.79L267 437.94L268 437.85L269 437.69L270 437.77L271 438.06L272 437.92L273 437.56L274 437.54L275 437.56L276 437.52L277 437.6L278 437.73L279 437.88L280 437.73L281 437.42L282 437.43L283 437.57L284 437.75L285 437.82L286 437.71L287 437.72L288 437.99L289 438L290 437.72L291 437.64L292 437.64L293 437.58L294 437.66L295 437.79L296 437.68L297 437.63L298 437.7L299 437.64L300 437.59L301 437.61L302 437.57L303 437.52L304 437.56L305 437.63L306 437.65L307 437.67L308 437.71L309 437.76L310 437.7L311 437.62L312 437.58L313 437.51L314 437.54L315 437.61L316 437.54L317 437.56L318 437.72L319 437.75L320 437.55L321 437.45L322 437.64L323 437.66L324 437.56L325 437.62L326 437.53L327 437.44L328 437.53L329 437.57L330 437.46L331 437.44L332 437.57L333 437.39L334 437.22L335 437.33L336 437.34L337 437.28L338 437.21L339 437.18L340 437.12L341 437.06L342 437.05L343 436.92L344 436.8L345 436.87L346 436.88L347 436.72L348 436.63L349 436.57L350 436.35L351 436.3L352 436.33L353 436.24L354 436.24L355 436.3L356 436.21L357 435.96L358 435.84L359 435.7L360 435.64L361 435.8L362 435.54L363 435.26L364 435.25L365 434.97L366 434.67L367 434.71L368 434.62L369 434.26L370 433.99L371 433.69L372 433.29L373 432.96L374 432.52L375 431.86L376 431.27L377 430.77L378 430.29L379 429.81L380 429.21L381 428.5L382 427.75L383 426.91L384 426.1L385 425.51L386 424.8L387 423.73L388 422.72L389 421.86L390 420.92L391 419.89L392 418.82L393 417.68L394 416.43L395 414.93L396 413.38L397 411.78L398 410.09L399 408.35L400 406.36L401 404.36L402 402.54L403 400.59L404 398.57L405 396.6L406 394.72L407 392.99L408 391L409 388.83L410 386.84L411 384.96L412 382.96L413 380.79L414 378.66L415 376.52L416 374.29L417 372.02L418 369.41L419 366.38L420 363.01L421 359.43L422 355.86L423 352.04L424 348.09L425 343.74L426 338.97L427 334.53L428 330.22L429 325.76L430 321.07L431 316.3L432 311.58L433 306.54L434 301.16L435 295.72L436 290.71L437 285.99L438 280.96L439 276.15L440 272.06L441 267.97L442 263.56L443 259.17L444 254.76L445 250.27L446 245.86L447 241.38L448 236.86L449 231.9L450 226.38L451 221.08L452 216.09L453 211.15L454 205.77L455 200.44L456 196.07L457 192.23L458 187.78L459 182.73L460 178.65L461 174.97L462 170.45L463 166.46L464 163.36L465 159.83L466 155.9L467 152.38L468 149.15L469 145.83L470 142.38L471 139.01L472 135.82L473 133.14L474 131.07L475 129.27L476 127.29L477 125.41L478 124.26L479 123.32L480 122.55L481 122.42L482 122.35L483 122.47L484 123.32L485 123.96L486 124.64L487 125.91L488 127.26L489 129.2L490 132.09L491 135.45L492 139.24L493 144.34L494 149.76L495 154.38L496 158.51L497 161.95L498 165.9L499 170.63L500 174.92L501 179.11L502 183.82L503 189L504 193.84L505 198.61L506 204.12L507 209.72L508 215.38L509 221.3L510 227.34L511 233.41L512 239.13L513 244.84L514 250.75L515 256.48L516 262.35L517 268.36L518 273.96L519 279.21L520 284.39L521 289.14L522 293.59L523 298.25L524 302.98L525 307.32L526 311.34L527 315.53L528 319.8L529 324.11L530 328.54L531 332.82L532 336.79L533 340.64L534 344.5L535 348.53L536 352.64L537 356.45L538 359.61L539 362.44L540 365.19L541 367.61L542 369.81L543 372.02L544 374.24L545 376.25L546 377.94L547 379.7L548 381.32L549 382.71L550 384.22L551 385.55L552 386.77L553 388.18L554 389.61L555 390.97L556 392.36L557 393.8L558 395.09L559 396.27L560 397.46L561 398.68L562 400.1L563 401.47L564 402.63L565 403.83L566 404.97L567 406.01L568 407.2L569 408.55L570 409.8L571 411.08L572 412.34L573 413.4L574 414.6L575 415.84L576 416.84L577 417.85L578 419.08L579 420.52L580 421.9L581 423.03L582 424.09L583 425.22L584 426.25L585 427.19L586 428.36L587 429.41L588 430.4L589 431.45L590 432.09L591 432.69L592 433.6L593 434.47L594 435.14L595 435.85L596 436.52L597 436.95L598 437.35" fill="none" stroke="#3a0c0a" stroke-width="2.6" stroke-linejoin="round" stroke-linecap="round" clip-path="url(#ca)"/><rect x="87.5" y="59.2" width="510.7" height="380.1" fill="none" stroke="#000" stroke-width="2.6"/><text x="87.5" y="468.3" font-size="26.3" text-anchor="middle" fill="#000">450</text><text x="172.62" y="468.3" font-size="26.3" text-anchor="middle" fill="#000">500</text><text x="257.73" y="468.3" font-size="26.3" text-anchor="middle" fill="#000">550</text><text x="342.85" y="468.3" font-size="26.3" text-anchor="middle" fill="#000">600</text><text x="427.97" y="468.3" font-size="26.3" text-anchor="middle" fill="#000">650</text><text x="513.08" y="468.3" font-size="26.3" text-anchor="middle" fill="#000">700</text><text x="598.2" y="468.3" font-size="26.3" text-anchor="middle" fill="#000">750</text><text x="342.8" y="510.3" font-size="26.8" text-anchor="middle" fill="#000">Wavelength (nm)</text><text x="59.2" y="248.4" font-size="26.8" text-anchor="middle" transform="rotate(-90 59.2 248.4)" fill="#000">Norm. PL Intenisty (a.u.)</text><line x1="96.5" y1="81.5" x2="157.5" y2="81.5" stroke="#e0271d" stroke-width="2.2" stroke-linecap="round"/><text x="163.3" y="90.8" font-size="26.8" text-anchor="start" fill="#000">0 &#176;C</text><line x1="96.5" y1="114.16" x2="157.5" y2="114.16" stroke="#c2211b" stroke-width="2.2" stroke-linecap="round"/><text x="163.3" y="123.46" font-size="26.8" text-anchor="start" fill="#000">4 &#176;C</text><line x1="96.5" y1="146.82" x2="157.5" y2="146.82" stroke="#7c1643" stroke-width="2.2" stroke-linecap="round"/><text x="163.3" y="156.12" font-size="26.8" text-anchor="start" fill="#000">8 &#176;C</text><line x1="96.5" y1="179.48" x2="157.5" y2="179.48" stroke="#b66f2c" stroke-width="2.2" stroke-linecap="round"/><text x="163.3" y="188.78" font-size="26.8" text-anchor="start" fill="#000">12 &#176;C</text><line x1="96.5" y1="212.14" x2="157.5" y2="212.14" stroke="#7a3a18" stroke-width="2.2" stroke-linecap="round"/><text x="163.3" y="221.44" font-size="26.8" text-anchor="start" fill="#000">16 &#176;C</text><line x1="96.5" y1="244.8" x2="157.5" y2="244.8" stroke="#3a0c0a" stroke-width="2.2" stroke-linecap="round"/><text x="163.3" y="254.1" font-size="26.8" text-anchor="start" fill="#000">20 &#176;C</text><line x1="820.5" y1="100" x2="820.5" y2="86" stroke="#e4261e" stroke-width="2.4" stroke-linecap="butt"/><line x1="816.7" y1="86" x2="824.3" y2="86" stroke="#e4261e" stroke-width="2.6" stroke-linecap="round"/><rect x="789.35" y="101.35" width="62.3" height="23.9" rx="1" fill="url(#h0)" stroke="#e4261e" stroke-width="2.7" stroke-linejoin="round"/><line x1="789.35" y1="120.3" x2="851.65" y2="120.3" stroke="#e4261e" stroke-width="2.2" stroke-linecap="butt"/><line x1="898.6" y1="158" x2="898.6" y2="133.6" stroke="#c4281e" stroke-width="2.4" stroke-linecap="butt"/><line x1="894.8" y1="133.6" x2="902.4" y2="133.6" stroke="#c4281e" stroke-width="2.6" stroke-linecap="round"/><line x1="898.6" y1="205.4" x2="898.6" y2="214.9" stroke="#c4281e" stroke-width="2.4" stroke-linecap="butt"/><line x1="894.8" y1="214.9" x2="902.4" y2="214.9" stroke="#c4281e" stroke-width="2.6" stroke-linecap="round"/><rect x="867.45" y="159.35" width="62.3" height="44.7" rx="1" fill="url(#h1)" stroke="#c4281e" stroke-width="2.7" stroke-linejoin="round"/><line x1="867.45" y1="188.7" x2="929.75" y2="188.7" stroke="#c4281e" stroke-width="2.2" stroke-linecap="butt"/><line x1="976.9" y1="215.2" x2="976.9" y2="196.1" stroke="#8c1a48" stroke-width="2.4" stroke-linecap="butt"/><line x1="973.1" y1="196.1" x2="980.7" y2="196.1" stroke="#8c1a48" stroke-width="2.6" stroke-linecap="round"/><line x1="976.9" y1="262.7" x2="976.9" y2="264.3" stroke="#8c1a48" stroke-width="2.4" stroke-linecap="butt"/><line x1="973.1" y1="264.3" x2="980.7" y2="264.3" stroke="#8c1a48" stroke-width="2.6" stroke-linecap="round"/><rect x="945.65" y="216.55" width="62.5" height="44.8" rx="1" fill="url(#h2)" stroke="#8c1a48" stroke-width="2.7" stroke-linejoin="round"/><line x1="945.65" y1="247.7" x2="1008.15" y2="247.7" stroke="#8c1a48" stroke-width="2.2" stroke-linecap="butt"/><line x1="1054.85" y1="238.4" x2="1054.85" y2="227.2" stroke="#8a3c16" stroke-width="2.4" stroke-linecap="butt"/><line x1="1051.05" y1="227.2" x2="1058.65" y2="227.2" stroke="#8a3c16" stroke-width="2.6" stroke-linecap="round"/><line x1="1054.85" y1="285.5" x2="1054.85" y2="301.8" stroke="#8a3c16" stroke-width="2.4" stroke-linecap="butt"/><line x1="1051.05" y1="301.8" x2="1058.65" y2="301.8" stroke="#8a3c16" stroke-width="2.6" stroke-linecap="round"/><rect x="1023.85" y="239.75" width="62" height="44.4" rx="1" fill="url(#h3)" stroke="#8a3c16" stroke-width="2.7" stroke-linejoin="round"/><line x1="1023.85" y1="259.1" x2="1085.85" y2="259.1" stroke="#8a3c16" stroke-width="2.2" stroke-linecap="butt"/><line x1="1133" y1="323" x2="1133" y2="335.2" stroke="#c66e24" stroke-width="2.4" stroke-linecap="butt"/><line x1="1129.2" y1="335.2" x2="1136.8" y2="335.2" stroke="#c66e24" stroke-width="2.6" stroke-linecap="round"/><rect x="1101.95" y="307.15" width="62.1" height="14.5" rx="1" fill="url(#h4)" stroke="#c66e24" stroke-width="2.7" stroke-linejoin="round"/><line x1="1101.95" y1="307.4" x2="1164.05" y2="307.4" stroke="#c66e24" stroke-width="2.2" stroke-linecap="butt"/><line x1="1211.25" y1="420.4" x2="1211.25" y2="425" stroke="#4e0e12" stroke-width="2.4" stroke-linecap="butt"/><line x1="1207.45" y1="425" x2="1215.05" y2="425" stroke="#4e0e12" stroke-width="2.6" stroke-linecap="round"/><rect x="1180.05" y="372.75" width="62.4" height="46.3" rx="1" fill="url(#h5)" stroke="#4e0e12" stroke-width="2.7" stroke-linejoin="round"/><line x1="1180.05" y1="392.7" x2="1242.45" y2="392.7" stroke="#4e0e12" stroke-width="2.2" stroke-linecap="butt"/><rect x="781.6" y="63.5" width="468" height="380.4" fill="none" stroke="#000" stroke-width="2.6"/><line x1="781.6" y1="405.6" x2="785.1" y2="405.6" stroke="#000" stroke-width="2.2" stroke-linecap="butt"/><line x1="781.6" y1="367.6" x2="788.1" y2="367.6" stroke="#000" stroke-width="2.2" stroke-linecap="butt"/><line x1="781.6" y1="329.6" x2="785.1" y2="329.6" stroke="#000" stroke-width="2.2" stroke-linecap="butt"/><line x1="781.6" y1="291.6" x2="788.1" y2="291.6" stroke="#000" stroke-width="2.2" stroke-linecap="butt"/><line x1="781.6" y1="253.6" x2="785.1" y2="253.6" stroke="#000" stroke-width="2.2" stroke-linecap="butt"/><line x1="781.6" y1="215.6" x2="788.1" y2="215.6" stroke="#000" stroke-width="2.2" stroke-linecap="butt"/><line x1="781.6" y1="177.6" x2="785.1" y2="177.6" stroke="#000" stroke-width="2.2" stroke-linecap="butt"/><line x1="781.6" y1="139.6" x2="788.1" y2="139.6" stroke="#000" stroke-width="2.2" stroke-linecap="butt"/><line x1="781.6" y1="101.6" x2="785.1" y2="101.6" stroke="#000" stroke-width="2.2" stroke-linecap="butt"/><text x="773.8" y="451.9" font-size="26.3" text-anchor="end" fill="#000">40</text><text x="773.8" y="375.9" font-size="26.3" text-anchor="end" fill="#000">50</text><text x="773.8" y="299.9" font-size="26.3" text-anchor="end" fill="#000">60</text><text x="773.8" y="223.9" font-size="26.3" text-anchor="end" fill="#000">70</text><text x="773.8" y="147.9" font-size="26.3" text-anchor="end" fill="#000">80</text><text x="773.8" y="71.9" font-size="26.3" text-anchor="end" fill="#000">90</text><line x1="820.5" y1="443.9" x2="820.5" y2="437.4" stroke="#000" stroke-width="2.2" stroke-linecap="butt"/><text x="820.5" y="472.2" font-size="26.3" text-anchor="middle" fill="#000">0</text><line x1="898.58" y1="443.9" x2="898.58" y2="437.4" stroke="#000" stroke-width="2.2" stroke-linecap="butt"/><text x="898.58" y="472.2" font-size="26.3" text-anchor="middle" fill="#000">4</text><line x1="976.66" y1="443.9" x2="976.66" y2="437.4" stroke="#000" stroke-width="2.2" stroke-linecap="butt"/><text x="976.66" y="472.2" font-size="26.3" text-anchor="middle" fill="#000">8</text><line x1="1054.74" y1="443.9" x2="1054.74" y2="437.4" stroke="#000" stroke-width="2.2" stroke-linecap="butt"/><text x="1054.74" y="472.2" font-size="26.3" text-anchor="middle" fill="#000">12</text><line x1="1132.82" y1="443.9" x2="1132.82" y2="437.4" stroke="#000" stroke-width="2.2" stroke-linecap="butt"/><text x="1132.82" y="472.2" font-size="26.3" text-anchor="middle" fill="#000">16</text><line x1="1210.9" y1="443.9" x2="1210.9" y2="437.4" stroke="#000" stroke-width="2.2" stroke-linecap="butt"/><text x="1210.9" y="472.2" font-size="26.3" text-anchor="middle" fill="#000">20</text><text x="1011.2" y="516.4" font-size="26.2" text-anchor="middle" fill="#000">Injection temperature (&#176;C)</text><text x="715.5" y="241.1" font-size="26.8" text-anchor="middle" transform="rotate(-90 715.5 241.1)" fill="#000">PLQY (%)</text><line x1="151.93" y1="946.6" x2="151.93" y2="943.1" stroke="#000" stroke-width="2.2" stroke-linecap="butt"/><line x1="215.85" y1="946.6" x2="215.85" y2="940.1" stroke="#000" stroke-width="2.2" stroke-linecap="butt"/><line x1="279.77" y1="946.6" x2="279.77" y2="943.1" stroke="#000" stroke-width="2.2" stroke-linecap="butt"/><line x1="343.7" y1="946.6" x2="343.7" y2="940.1" stroke="#000" stroke-width="2.2" stroke-linecap="butt"/><line x1="407.62" y1="946.6" x2="407.62" y2="943.1" stroke="#000" stroke-width="2.2" stroke-linecap="butt"/><line x1="471.55" y1="946.6" x2="471.55" y2="940.1" stroke="#000" stroke-width="2.2" stroke-linecap="butt"/><line x1="535.47" y1="946.6" x2="535.47" y2="943.1" stroke="#000" stroke-width="2.2" stroke-linecap="butt"/><path d="M87 945.3L88 945.26L89 945.26L90 945.33L91 945.36L92 945.31L93 945.35L94 945.37L95 945.28L96 945.23L97 945.29L98 945.36L99 945.38L100 945.34L101 945.28L102 945.16L103 945.05L104 945L105 945.01L106 945.06L107 945.05L108 945.03L109 945.06L110 945.03L111 944.96L112 945L113 945.07L114 945L115 944.88L116 944.91L117 944.97L118 944.94L119 944.96L120 944.9L121 944.79L122 944.83L123 944.8L124 944.71L125 944.73L126 944.77L127 944.77L128 944.72L129 944.7L130 944.76L131 944.81L132 944.79L133 944.76L134 944.77L135 944.75L136 944.68L137 944.63L138 944.6L139 944.58L140 944.52L141 944.41L142 944.42L143 944.42L144 944.31L145 944.33L146 944.42L147 944.36L148 944.33L149 944.35L150 944.3L151 944.25L152 944.24L153 944.23L154 944.23L155 944.28L156 944.32L157 944.3L158 944.29L159 944.26L160 944.22L161 944.16L162 944.11L163 944.09L164 944.05L165 943.99L166 944.02L167 944.03L168 943.96L169 943.83L170 943.78L171 943.86L172 943.81L173 943.7L174 943.72L175 943.73L176 943.71L177 943.7L178 943.68L179 943.63L180 943.56L181 943.52L182 943.45L183 943.35L184 943.32L185 943.25L186 943.1L187 943L188 942.91L189 942.85L190 942.76L191 942.63L192 942.56L193 942.48L194 942.38L195 942.26L196 942.11L197 942.03L198 941.96L199 941.75L200 941.57L201 941.47L202 941.35L203 941.19L204 941.03L205 940.87L206 940.75L207 940.65L208 940.55L209 940.5L210 940.44L211 940.27L212 940.12L213 940.06L214 939.93L215 939.77L216 939.65L217 939.5L218 939.35L219 939.25L220 939.14L221 938.95L222 938.79L223 938.67L224 938.55L225 938.34L226 938.09L227 937.92L228 937.73L229 937.51L230 937.22L231 936.87L232 936.55L233 936.24L234 935.96L235 935.63L236 935.18L237 934.77L238 934.39L239 933.86L240 933.34L241 932.83L242 932.29L243 931.82L244 931.27L245 930.54L246 929.74L247 928.84L248 927.86L249 926.86L250 925.75L251 924.61L252 923.49L253 922.24L254 920.91L255 919.53L256 917.96L257 916.14L258 914.21L259 912.21L260 910.08L261 907.9L262 905.67L263 903.24L264 900.61L265 897.87L266 894.99L267 891.96L268 888.76L269 885.45L270 882.03L271 878.24L272 874.16L273 869.75L274 864.91L275 859.73L276 854.05L277 847.5L278 840.49L279 833.42L280 826.81L281 820.58L282 814.07L283 806.58L284 797.21L285 786.49L286 776.04L287 765.83L288 755.94L289 746.79L290 738.1L291 728.87L292 718.55L293 708.79L294 700.31L295 692.34L296 684.27L297 675.82L298 668.03L299 661.73L300 656.1L301 650.97L302 646.4L303 642.36L304 638.65L305 635.78L306 633.86L307 632.23L308 631.74L309 632.73L310 634.51L311 636.85L312 640.25L313 644.05L314 648.31L315 653.04L316 658.13L317 663.63L318 669.43L319 675.74L320 682.85L321 691.15L322 701.67L323 711.44L324 719.88L325 727.63L326 734.54L327 740.64L328 746.28L329 751.79L330 757.26L331 762.5L332 767.7L333 773.03L334 778.67L335 785.06L336 791.95L337 798.71L338 804.84L339 810.14L340 815.07L341 819.7L342 824.08L343 828.19L344 832.07L345 835.85L346 839.53L347 843.03L348 846.37L349 849.7L350 852.92L351 855.85L352 858.72L353 861.63L354 864.4L355 867.08L356 869.68L357 872.15L358 874.55L359 876.95L360 879.3L361 881.54L362 883.64L363 885.61L364 887.49L365 889.35L366 891.22L367 893.14L368 894.98L369 896.64L370 898.3L371 900.07L372 901.68L373 903.14L374 904.62L375 906.06L376 907.31L377 908.43L378 909.57L379 910.7L380 911.8L381 912.77L382 913.68L383 914.66L384 915.56L385 916.33L386 917.15L387 918L388 918.82L389 919.56L390 920.26L391 921.02L392 921.85L393 922.6L394 923.29L395 924.06L396 924.81L397 925.43L398 926.03L399 926.69L400 927.37L401 928L402 928.57L403 929.13L404 929.71L405 930.24L406 930.74L407 931.2L408 931.59L409 932.04L410 932.5L411 932.95L412 933.37L413 933.68L414 934L415 934.39L416 934.81L417 935.16L418 935.44L419 935.77L420 936.12L421 936.33L422 936.51L423 936.78L424 937.11L425 937.41L426 937.69L427 937.97L428 938.22L429 938.46L430 938.69L431 938.94L432 939.19L433 939.46L434 939.73L435 939.93L436 940.05L437 940.15L438 940.24L439 940.43L440 940.77L441 941.05L442 941.15L443 941.3L444 941.51L445 941.62L446 941.69L447 941.77L448 941.94L449 942.18L450 942.3L451 942.35L452 942.51L453 942.65L454 942.72L455 942.85L456 942.97L457 943.12L458 943.27L459 943.39L460 943.45L461 943.52L462 943.61L463 943.69L464 943.78L465 943.85L466 943.96L467 944.08L468 944.16L469 944.25L470 944.32L471 944.31L472 944.29L473 944.38L474 944.49L475 944.53L476 944.57L477 944.55L478 944.49L479 944.55L480 944.61L481 944.57L482 944.56L483 944.63L484 944.73L485 944.84L486 944.84L487 944.75L488 944.7L489 944.74L490 944.79L491 944.86L492 944.92L493 944.88L494 944.88L495 944.95L496 944.96L497 944.93L498 944.96L499 945.02L500 945.03L501 945.02L502 945.04L503 945.13L504 945.17L505 945.12L506 945.17L507 945.2L508 945.16L509 945.24L510 945.29L511 945.26L512 945.3L513 945.32L514 945.27L515 945.23L516 945.2L517 945.22L518 945.27L519 945.34L520 945.39L521 945.32L522 945.29L523 945.39L524 945.44L525 945.41L526 945.37L527 945.33L528 945.39L529 945.49L530 945.5L531 945.47L532 945.46L533 945.43L534 945.4L535 945.43L536 945.43L537 945.38L538 945.35L539 945.39L540 945.48L541 945.52L542 945.47L543 945.43L544 945.45L545 945.48L546 945.49L547 945.49L548 945.58L549 945.69L550 945.66L551 945.59L552 945.62L553 945.71L554 945.74L555 945.66L556 945.61L557 945.71L558 945.79L559 945.78L560 945.76L561 945.77L562 945.78L563 945.78L564 945.78L565 945.75L566 945.72L567 945.72L568 945.73L569 945.76L570 945.85L571 945.88L572 945.78L573 945.77L574 945.84L575 945.84L576 945.84L577 945.87L578 945.87L579 945.85L580 945.9L581 945.87L582 945.77L583 945.79L584 945.85L585 945.88L586 945.86L587 945.83L588 945.85L589 945.89L590 945.89L591 945.94L592 946.01L593 945.95L594 945.86L595 945.88L596 945.89L597 945.86L597.5 945.88" fill="none" stroke="#66d8e8" stroke-width="2.2" stroke-linejoin="round" stroke-linecap="round" clip-path="url(#cc)"/><path d="M87.6 945.01L88.6 945.07L89.6 945.08L90.6 945.02L91.6 944.96L92.6 944.89L93.6 944.83L94.6 944.8L95.6 944.83L96.6 944.88L97.6 944.87L98.6 944.82L99.6 944.76L100.6 944.7L101.6 944.68L102.6 944.71L103.6 944.76L104.6 944.74L105.6 944.69L106.6 944.64L107.6 944.64L108.6 944.66L109.6 944.62L110.6 944.66L111.6 944.66L112.6 944.49L113.6 944.43L114.6 944.5L115.6 944.49L116.6 944.44L117.6 944.46L118.6 944.49L119.6 944.42L120.6 944.36L121.6 944.45L122.6 944.53L123.6 944.45L124.6 944.34L125.6 944.25L126.6 944.21L127.6 944.32L128.6 944.41L129.6 944.29L130.6 944.13L131.6 944.16L132.6 944.21L133.6 944.22L134.6 944.2L135.6 944.1L136.6 944.1L137.6 944.19L138.6 944.2L139.6 944.18L140.6 944.17L141.6 944.11L142.6 944.06L143.6 944.08L144.6 944L145.6 943.94L146.6 944.03L147.6 944.11L148.6 944.09L149.6 944.03L150.6 943.91L151.6 943.82L152.6 943.88L153.6 943.84L154.6 943.72L155.6 943.72L156.6 943.79L157.6 943.84L158.6 943.82L159.6 943.79L160.6 943.73L161.6 943.61L162.6 943.57L163.6 943.62L164.6 943.64L165.6 943.61L166.6 943.58L167.6 943.56L168.6 943.56L169.6 943.52L170.6 943.41L171.6 943.28L172.6 943.21L173.6 943.25L174.6 943.34L175.6 943.36L176.6 943.31L177.6 943.31L178.6 943.35L179.6 943.33L180.6 943.24L181.6 943.17L182.6 943.04L183.6 942.84L184.6 942.74L185.6 942.78L186.6 942.83L187.6 942.75L188.6 942.57L189.6 942.44L190.6 942.28L191.6 942.11L192.6 942.06L193.6 941.96L194.6 941.86L195.6 941.81L196.6 941.68L197.6 941.54L198.6 941.39L199.6 941.25L200.6 941.17L201.6 941.07L202.6 940.88L203.6 940.76L204.6 940.76L205.6 940.63L206.6 940.43L207.6 940.29L208.6 940.17L209.6 940.11L210.6 940.02L211.6 939.85L212.6 939.81L213.6 939.73L214.6 939.56L215.6 939.42L216.6 939.27L217.6 939.09L218.6 938.97L219.6 938.9L220.6 938.75L221.6 938.57L222.6 938.42L223.6 938.28L224.6 938.08L225.6 937.85L226.6 937.67L227.6 937.45L228.6 937.24L229.6 937.09L230.6 936.82L231.6 936.45L232.6 936.11L233.6 935.76L234.6 935.4L235.6 935.07L236.6 934.72L237.6 934.24L238.6 933.8L239.6 933.41L240.6 932.97L241.6 932.48L242.6 931.91L243.6 931.32L244.6 930.69L245.6 929.99L246.6 929.32L247.6 928.55L248.6 927.6L249.6 926.55L250.6 925.46L251.6 924.29L252.6 923.04L253.6 921.76L254.6 920.45L255.6 919.01L256.6 917.43L257.6 915.64L258.6 913.73L259.6 911.78L260.6 909.67L261.6 907.42L262.6 905.13L263.6 902.76L264.6 900.25L265.6 897.57L266.6 894.7L267.6 891.62L268.6 888.38L269.6 885.04L270.6 881.59L271.6 877.83L272.6 873.75L273.6 869.38L274.6 864.58L275.6 859.37L276.6 853.68L277.6 847.1L278.6 840.06L279.6 833.02L280.6 826.46L281.6 820.26L282.6 813.78L283.6 806.29L284.6 796.85L285.6 786.09L286.6 775.64L287.6 765.37L288.6 755.49L289.6 746.4L290.6 737.69L291.6 728.47L292.6 718.26L293.6 708.5L294.6 699.94L295.6 691.94L296.6 683.88L297.6 675.44L298.6 667.62L299.6 661.27L300.6 655.67L301.6 650.61L302.6 646L303.6 641.88L304.6 638.19L305.6 635.28L306.6 633.31L307.6 631.84L308.6 631.45L309.6 632.38L310.6 634.13L311.6 636.38L312.6 639.68L313.6 643.51L314.6 647.78L315.6 652.52L316.6 657.69L317.6 663.21L318.6 668.99L319.6 675.3L320.6 682.4L321.6 690.73L322.6 701.3L323.6 711.13L324.6 719.54L325.6 727.2L326.6 734.05L327.6 740.18L328.6 745.89L329.6 751.4L330.6 756.93L331.6 762.2L332.6 767.28L333.6 772.54L334.6 778.26L335.6 784.67L336.6 791.55L337.6 798.38L338.6 804.58L339.6 809.82L340.6 814.72L341.6 819.38L342.6 823.67L343.6 827.75L344.6 831.73L345.6 835.5L346.6 839.07L347.6 842.58L348.6 845.99L349.6 849.24L350.6 852.36L351.6 855.4L352.6 858.31L353.6 861.16L354.6 864.01L355.6 866.76L356.6 869.35L357.6 871.79L358.6 874.17L359.6 876.51L360.6 878.8L361.6 880.99L362.6 883.08L363.6 885.11L364.6 887.1L365.6 889.04L366.6 890.95L367.6 892.74L368.6 894.44L369.6 896.22L370.6 898.01L371.6 899.67L372.6 901.24L373.6 902.75L374.6 904.21L375.6 905.56L376.6 906.82L377.6 908.05L378.6 909.26L379.6 910.37L380.6 911.39L381.6 912.34L382.6 913.27L383.6 914.22L384.6 915.08L385.6 915.89L386.6 916.72L387.6 917.57L388.6 918.47L389.6 919.3L390.6 919.93L391.6 920.59L392.6 921.41L393.6 922.22L394.6 922.99L395.6 923.65L396.6 924.25L397.6 924.94L398.6 925.65L399.6 926.31L400.6 926.94L401.6 927.56L402.6 928.13L403.6 928.63L404.6 929.23L405.6 929.89L406.6 930.41L407.6 930.84L408.6 931.29L409.6 931.76L410.6 932.17L411.6 932.49L412.6 932.86L413.6 933.28L414.6 933.6L415.6 933.93L416.6 934.32L417.6 934.65L418.6 934.97L419.6 935.31L420.6 935.64L421.6 935.93L422.6 936.17L423.6 936.37L424.6 936.61L425.6 936.91L426.6 937.24L427.6 937.55L428.6 937.76L429.6 938.03L430.6 938.35L431.6 938.55L432.6 938.72L433.6 938.97L434.6 939.22L435.6 939.47L436.6 939.64L437.6 939.79L438.6 940L439.6 940.2L440.6 940.45L441.6 940.57L442.6 940.68L443.6 940.92L444.6 941L445.6 941.1L446.6 941.34L447.6 941.46L448.6 941.56L449.6 941.72L450.6 941.88L451.6 941.99L452.6 942.12L453.6 942.36L454.6 942.49L455.6 942.54L456.6 942.67L457.6 942.79L458.6 942.92L459.6 943.05L460.6 943.15L461.6 943.22L462.6 943.29L463.6 943.37L464.6 943.45L465.6 943.52L466.6 943.52L467.6 943.59L468.6 943.71L469.6 943.75L470.6 943.84L471.6 943.87L472.6 943.83L473.6 943.95L474.6 944.06L475.6 944.07L476.6 944.08L477.6 944L478.6 943.94L479.6 944.01L480.6 944.12L481.6 944.21L482.6 944.21L483.6 944.18L484.6 944.25L485.6 944.29L486.6 944.22L487.6 944.21L488.6 944.3L489.6 944.39L490.6 944.48L491.6 944.49L492.6 944.46L493.6 944.46L494.6 944.53L495.6 944.63L496.6 944.57L497.6 944.52L498.6 944.6L499.6 944.67L500.6 944.71L501.6 944.67L502.6 944.61L503.6 944.65L504.6 944.67L505.6 944.67L506.6 944.7L507.6 944.73L508.6 944.78L509.6 944.82L510.6 944.82L511.6 944.85L512.6 944.89L513.6 944.86L514.6 944.86L515.6 944.9L516.6 944.9L517.6 944.87L518.6 944.91L519.6 944.97L520.6 944.97L521.6 944.96L522.6 944.96L523.6 944.97L524.6 944.99L525.6 945.01L526.6 944.99L527.6 944.97L528.6 944.99L529.6 945.07L530.6 945.17L531.6 945.14L532.6 945.07L533.6 945.07L534.6 945.1L535.6 945.07L536.6 945.05L537.6 945.05L538.6 945.07L539.6 945.07L540.6 945.08L541.6 945.1L542.6 945.11L543.6 945.19L544.6 945.22L545.6 945.16L546.6 945.17L547.6 945.22L548.6 945.21L549.6 945.21L550.6 945.22L551.6 945.21L552.6 945.22L553.6 945.27L554.6 945.28L555.6 945.25L556.6 945.23L557.6 945.24L558.6 945.31L559.6 945.39L560.6 945.39L561.6 945.37L562.6 945.41L563.6 945.43L564.6 945.38L565.6 945.31L566.6 945.35L567.6 945.37L568.6 945.33L569.6 945.39L570.6 945.43L571.6 945.4L572.6 945.44L573.6 945.48L574.6 945.47L575.6 945.4L576.6 945.35L577.6 945.39L578.6 945.38L579.6 945.35L580.6 945.42L581.6 945.46L582.6 945.38L583.6 945.29L584.6 945.33L585.6 945.41L586.6 945.45L587.6 945.46L588.6 945.42L589.6 945.44L590.6 945.52L591.6 945.53L592.6 945.48L593.6 945.41L594.6 945.4L595.6 945.46L596.6 945.52L597.6 945.55L598.1 945.51" fill="none" stroke="#16168a" stroke-width="2.4" stroke-linejoin="round" stroke-linecap="round" clip-path="url(#cc)"/><path d="M87.9 944.36L88.9 944.33L89.9 944.26L90.9 944.29L91.9 944.26L92.9 944.16L93.9 944.12L94.9 944.12L95.9 944.16L96.9 944.22L97.9 944.21L98.9 944.14L99.9 944.01L100.9 944.02L101.9 944.15L102.9 944.21L103.9 944.22L104.9 944.13L105.9 944.03L106.9 944.06L107.9 944.05L108.9 943.97L109.9 943.92L110.9 943.91L111.9 943.93L112.9 943.94L113.9 943.95L114.9 943.93L115.9 943.86L116.9 943.85L117.9 943.83L118.9 943.73L119.9 943.72L120.9 943.79L121.9 943.79L122.9 943.74L123.9 943.7L124.9 943.67L125.9 943.65L126.9 943.63L127.9 943.65L128.9 943.66L129.9 943.62L130.9 943.58L131.9 943.52L132.9 943.46L133.9 943.44L134.9 943.46L135.9 943.48L136.9 943.45L137.9 943.47L138.9 943.53L139.9 943.49L140.9 943.41L141.9 943.37L142.9 943.29L143.9 943.27L144.9 943.31L145.9 943.29L146.9 943.24L147.9 943.23L148.9 943.24L149.9 943.2L150.9 943.2L151.9 943.26L152.9 943.26L153.9 943.2L154.9 943.16L155.9 943.13L156.9 943.09L157.9 943.04L158.9 943.04L159.9 943.07L160.9 943.05L161.9 943.02L162.9 943.02L163.9 943.04L164.9 943.03L165.9 942.94L166.9 942.88L167.9 942.85L168.9 942.84L169.9 942.88L170.9 942.88L171.9 942.81L172.9 942.76L173.9 942.76L174.9 942.75L175.9 942.67L176.9 942.55L177.9 942.49L178.9 942.52L179.9 942.46L180.9 942.4L181.9 942.41L182.9 942.32L183.9 942.19L184.9 942.13L185.9 942.11L186.9 942.01L187.9 941.84L188.9 941.76L189.9 941.75L190.9 941.67L191.9 941.43L192.9 941.2L193.9 941.17L194.9 941.19L195.9 941.16L196.9 941.07L197.9 940.88L198.9 940.71L199.9 940.62L200.9 940.49L201.9 940.34L202.9 940.26L203.9 940.16L204.9 939.96L205.9 939.81L206.9 939.74L207.9 939.63L208.9 939.48L209.9 939.38L210.9 939.35L211.9 939.3L212.9 939.18L213.9 939.06L214.9 938.88L215.9 938.62L216.9 938.46L217.9 938.36L218.9 938.23L219.9 938.11L220.9 937.98L221.9 937.81L222.9 937.61L223.9 937.41L224.9 937.3L225.9 937.21L226.9 937L227.9 936.8L228.9 936.59L229.9 936.32L230.9 936.08L231.9 935.82L232.9 935.49L233.9 935.1L234.9 934.69L235.9 934.34L236.9 934.01L237.9 933.65L238.9 933.2L239.9 932.72L240.9 932.28L241.9 931.8L242.9 931.27L243.9 930.72L244.9 930.06L245.9 929.38L246.9 928.69L247.9 927.81L248.9 926.81L249.9 925.78L250.9 924.72L251.9 923.62L252.9 922.4L253.9 921.1L254.9 919.79L255.9 918.34L256.9 916.73L257.9 914.97L258.9 913.09L259.9 911.13L260.9 909.06L261.9 906.9L262.9 904.6L263.9 902.08L264.9 899.44L265.9 896.76L266.9 893.95L267.9 890.95L268.9 887.81L269.9 884.48L270.9 880.94L271.9 877.1L272.9 872.99L273.9 868.59L274.9 863.76L275.9 858.56L276.9 852.92L277.9 846.43L278.9 839.47L279.9 832.39L280.9 825.76L281.9 819.54L282.9 813.04L283.9 805.55L284.9 796.11L285.9 785.36L286.9 774.94L287.9 764.65L288.9 754.66L289.9 745.58L290.9 737.01L291.9 727.84L292.9 717.52L293.9 707.68L294.9 699.17L295.9 691.16L296.9 682.99L297.9 674.58L298.9 666.92L299.9 660.64L300.9 654.91L301.9 649.76L302.9 645.28L303.9 641.27L304.9 637.54L305.9 634.58L306.9 632.6L307.9 631.09L308.9 630.63L309.9 631.6L310.9 633.42L311.9 635.67L312.9 638.98L313.9 642.82L314.9 647.06L315.9 651.77L316.9 657.01L317.9 662.58L318.9 668.41L319.9 674.77L320.9 681.82L321.9 690.03L322.9 700.63L323.9 710.47L324.9 718.81L325.9 726.42L326.9 733.26L327.9 739.36L328.9 745.06L329.9 750.64L330.9 756.18L331.9 761.46L332.9 766.62L333.9 771.89L334.9 777.56L335.9 783.95L336.9 790.79L337.9 797.6L338.9 803.83L339.9 809.15L340.9 814.08L341.9 818.72L342.9 823.01L343.9 827.02L344.9 830.92L345.9 834.76L346.9 838.46L347.9 841.98L348.9 845.31L349.9 848.56L350.9 851.77L351.9 854.85L352.9 857.72L353.9 860.46L354.9 863.19L355.9 865.92L356.9 868.59L357.9 871.13L358.9 873.53L359.9 875.88L360.9 878.2L361.9 880.38L362.9 882.38L363.9 884.38L364.9 886.38L365.9 888.33L366.9 890.21L367.9 892.01L368.9 893.77L369.9 895.51L370.9 897.3L371.9 898.97L372.9 900.45L373.9 902L374.9 903.53L375.9 904.84L376.9 906.1L377.9 907.36L378.9 908.52L379.9 909.64L380.9 910.66L381.9 911.63L382.9 912.63L383.9 913.59L384.9 914.51L385.9 915.37L386.9 916.21L387.9 917.07L388.9 917.86L389.9 918.59L390.9 919.32L391.9 920.05L392.9 920.8L393.9 921.56L394.9 922.27L395.9 922.98L396.9 923.68L397.9 924.34L398.9 925.02L399.9 925.66L400.9 926.22L401.9 926.88L402.9 927.53L403.9 928.07L404.9 928.6L405.9 929.1L406.9 929.58L407.9 930.03L408.9 930.46L409.9 930.91L410.9 931.36L411.9 931.83L412.9 932.25L413.9 932.61L414.9 932.98L415.9 933.38L416.9 933.71L417.9 933.97L418.9 934.25L419.9 934.62L420.9 934.95L421.9 935.24L422.9 935.55L423.9 935.82L424.9 936.07L425.9 936.34L426.9 936.61L427.9 936.84L428.9 937.05L429.9 937.29L430.9 937.58L431.9 937.92L432.9 938.16L433.9 938.25L434.9 938.39L435.9 938.6L436.9 938.82L437.9 939.05L438.9 939.26L439.9 939.44L440.9 939.67L441.9 939.92L442.9 940.13L443.9 940.31L444.9 940.46L445.9 940.59L446.9 940.64L447.9 940.74L448.9 940.9L449.9 941.06L450.9 941.2L451.9 941.33L452.9 941.52L453.9 941.65L454.9 941.72L455.9 941.79L456.9 941.81L457.9 941.88L458.9 942.08L459.9 942.27L460.9 942.35L461.9 942.4L462.9 942.55L463.9 942.75L464.9 942.83L465.9 942.86L466.9 942.92L467.9 943.03L468.9 943.13L469.9 943.15L470.9 943.15L471.9 943.16L472.9 943.17L473.9 943.23L474.9 943.3L475.9 943.3L476.9 943.36L477.9 943.45L478.9 943.46L479.9 943.47L480.9 943.45L481.9 943.44L482.9 943.49L483.9 943.49L484.9 943.45L485.9 943.49L486.9 943.62L487.9 943.71L488.9 943.69L489.9 943.71L490.9 943.77L491.9 943.77L492.9 943.81L493.9 943.9L494.9 943.86L495.9 943.77L496.9 943.86L497.9 943.95L498.9 943.96L499.9 943.96L500.9 944.02L501.9 944.1L502.9 944.14L503.9 944.14L504.9 944.11L505.9 944.11L506.9 944.07L507.9 944.06L508.9 944.15L509.9 944.15L510.9 944.11L511.9 944.12L512.9 944.08L513.9 944.04L514.9 944.06L515.9 944.07L516.9 944.03L517.9 944.01L518.9 944.07L519.9 944.17L520.9 944.2L521.9 944.2L522.9 944.19L523.9 944.16L524.9 944.16L525.9 944.18L526.9 944.17L527.9 944.16L528.9 944.24L529.9 944.37L530.9 944.43L531.9 944.43L532.9 944.37L533.9 944.33L534.9 944.39L535.9 944.42L536.9 944.38L537.9 944.35L538.9 944.43L539.9 944.51L540.9 944.49L541.9 944.45L542.9 944.46L543.9 944.47L544.9 944.49L545.9 944.53L546.9 944.52L547.9 944.51L548.9 944.5L549.9 944.46L550.9 944.46L551.9 944.52L552.9 944.54L553.9 944.52L554.9 944.51L555.9 944.58L556.9 944.64L557.9 944.6L558.9 944.47L559.9 944.49L560.9 944.64L561.9 944.67L562.9 944.65L563.9 944.65L564.9 944.67L565.9 944.66L566.9 944.62L567.9 944.67L568.9 944.74L569.9 944.71L570.9 944.67L571.9 944.71L572.9 944.75L573.9 944.72L574.9 944.71L575.9 944.76L576.9 944.82L577.9 944.82L578.9 944.78L579.9 944.78L580.9 944.76L581.9 944.69L582.9 944.73L583.9 944.79L584.9 944.75L585.9 944.74L586.9 944.81L587.9 944.85L588.9 944.8L589.9 944.75L590.9 944.81L591.9 944.89L592.9 944.9L593.9 944.8L594.9 944.71L595.9 944.7L596.9 944.75L597.9 944.78L598.4 944.81" fill="none" stroke="#1c1cd0" stroke-width="1.6" stroke-linejoin="round" stroke-linecap="round" clip-path="url(#cc)"/><path d="M88.7 944.78L89.7 944.71L90.7 944.62L91.7 944.61L92.7 944.61L93.7 944.62L94.7 944.6L95.7 944.57L96.7 944.57L97.7 944.53L98.7 944.53L99.7 944.59L100.7 944.56L101.7 944.53L102.7 944.57L103.7 944.51L104.7 944.41L105.7 944.39L106.7 944.39L107.7 944.37L108.7 944.34L109.7 944.32L110.7 944.3L111.7 944.35L112.7 944.39L113.7 944.36L114.7 944.23L115.7 944.11L116.7 944.12L117.7 944.23L118.7 944.32L119.7 944.3L120.7 944.23L121.7 944.13L122.7 944.08L123.7 944.12L124.7 944.14L125.7 944.08L126.7 944.08L127.7 944.1L128.7 944.02L129.7 943.95L130.7 943.92L131.7 943.95L132.7 944.02L133.7 943.98L134.7 943.82L135.7 943.75L136.7 943.89L137.7 943.95L138.7 943.86L139.7 943.83L140.7 943.77L141.7 943.63L142.7 943.6L143.7 943.71L144.7 943.74L145.7 943.66L146.7 943.65L147.7 943.63L148.7 943.59L149.7 943.61L150.7 943.68L151.7 943.66L152.7 943.59L153.7 943.58L154.7 943.58L155.7 943.55L156.7 943.52L157.7 943.5L158.7 943.49L159.7 943.49L160.7 943.44L161.7 943.35L162.7 943.31L163.7 943.35L164.7 943.4L165.7 943.35L166.7 943.26L167.7 943.18L168.7 943.13L169.7 943.13L170.7 943.14L171.7 943.17L172.7 943.18L173.7 943.14L174.7 943.11L175.7 943.08L176.7 943.02L177.7 942.95L178.7 942.92L179.7 942.88L180.7 942.84L181.7 942.79L182.7 942.7L183.7 942.66L184.7 942.63L185.7 942.54L186.7 942.45L187.7 942.39L188.7 942.27L189.7 942.14L190.7 942.05L191.7 941.98L192.7 941.99L193.7 941.89L194.7 941.65L195.7 941.58L196.7 941.57L197.7 941.45L198.7 941.29L199.7 941.18L200.7 941.09L201.7 940.92L202.7 940.76L203.7 940.64L204.7 940.58L205.7 940.47L206.7 940.31L207.7 940.15L208.7 939.98L209.7 939.9L210.7 939.85L211.7 939.79L212.7 939.69L213.7 939.56L214.7 939.43L215.7 939.23L216.7 939.04L217.7 938.92L218.7 938.83L219.7 938.73L220.7 938.57L221.7 938.4L222.7 938.25L223.7 938.11L224.7 937.96L225.7 937.76L226.7 937.56L227.7 937.4L228.7 937.15L229.7 936.84L230.7 936.57L231.7 936.41L232.7 936.25L233.7 935.96L234.7 935.6L235.7 935.21L236.7 934.79L237.7 934.39L238.7 934.01L239.7 933.57L240.7 933.08L241.7 932.62L242.7 932.17L243.7 931.64L244.7 931.05L245.7 930.45L246.7 929.81L247.7 929.09L248.7 928.25L249.7 927.29L250.7 926.23L251.7 925.12L252.7 923.99L253.7 922.73L254.7 921.45L255.7 920.15L256.7 918.69L257.7 917.08L258.7 915.34L259.7 913.49L260.7 911.54L261.7 909.49L262.7 907.36L263.7 905.05L264.7 902.54L265.7 899.95L266.7 897.31L267.7 894.36L268.7 891.23L269.7 888.12L270.7 884.81L271.7 881.26L272.7 877.48L273.7 873.37L274.7 868.92L275.7 864.15L276.7 859.03L277.7 853.4L278.7 846.86L279.7 839.84L280.7 832.84L281.7 826.25L282.7 819.94L283.7 813.42L284.7 806.02L285.7 796.59L286.7 785.78L287.7 775.34L288.7 765.1L289.7 755.13L290.7 745.96L291.7 737.3L292.7 728.13L293.7 717.87L294.7 708.1L295.7 699.53L296.7 691.54L297.7 683.5L298.7 675.03L299.7 667.19L300.7 660.92L301.7 655.39L302.7 650.31L303.7 645.74L304.7 641.67L305.7 637.91L306.7 635L307.7 633.04L308.7 631.43L309.7 630.94L310.7 631.92L311.7 633.76L312.7 636.05L313.7 639.41L314.7 643.26L315.7 647.51L316.7 652.25L317.7 657.41L318.7 662.92L319.7 668.73L320.7 675.01L321.7 682.06L322.7 690.34L323.7 700.9L324.7 710.7L325.7 719.12L326.7 726.86L327.7 733.81L328.7 739.96L329.7 745.58L330.7 751.08L331.7 756.61L332.7 761.89L333.7 767.11L334.7 772.42L335.7 777.98L336.7 784.3L337.7 791.21L338.7 798.03L339.7 804.24L340.7 809.62L341.7 814.54L342.7 819.1L343.7 823.42L344.7 827.53L345.7 831.44L346.7 835.23L347.7 838.88L348.7 842.35L349.7 845.74L350.7 849.01L351.7 852.11L352.7 855.14L353.7 858.09L354.7 860.97L355.7 863.69L356.7 866.29L357.7 868.95L358.7 871.56L359.7 874.02L360.7 876.35L361.7 878.54L362.7 880.66L363.7 882.76L364.7 884.82L365.7 886.78L366.7 888.7L367.7 890.55L368.7 892.34L369.7 894.19L370.7 896.03L371.7 897.78L372.7 899.35L373.7 900.86L374.7 902.41L375.7 903.93L376.7 905.33L377.7 906.62L378.7 907.8L379.7 908.92L380.7 910.05L381.7 911.05L382.7 911.96L383.7 912.98L384.7 914L385.7 914.86L386.7 915.7L387.7 916.56L388.7 917.39L389.7 918.19L390.7 918.95L391.7 919.64L392.7 920.35L393.7 921.14L394.7 921.93L395.7 922.72L396.7 923.47L397.7 924.13L398.7 924.81L399.7 925.51L400.7 926.13L401.7 926.69L402.7 927.24L403.7 927.81L404.7 928.39L405.7 928.98L406.7 929.58L407.7 930.08L408.7 930.45L409.7 930.83L410.7 931.34L411.7 931.78L412.7 932.13L413.7 932.53L414.7 932.94L415.7 933.28L416.7 933.54L417.7 933.93L418.7 934.35L419.7 934.63L420.7 934.91L421.7 935.26L422.7 935.63L423.7 935.96L424.7 936.22L425.7 936.5L426.7 936.74L427.7 936.99L428.7 937.31L429.7 937.55L430.7 937.71L431.7 937.9L432.7 938.08L433.7 938.29L434.7 938.61L435.7 938.83L436.7 938.93L437.7 939.22L438.7 939.61L439.7 939.78L440.7 939.84L441.7 940.03L442.7 940.25L443.7 940.38L444.7 940.51L445.7 940.68L446.7 940.87L447.7 941.07L448.7 941.21L449.7 941.23L450.7 941.3L451.7 941.5L452.7 941.68L453.7 941.87L454.7 942.05L455.7 942.1L456.7 942.19L457.7 942.4L458.7 942.55L459.7 942.62L460.7 942.66L461.7 942.69L462.7 942.79L463.7 942.97L464.7 943.12L465.7 943.21L466.7 943.29L467.7 943.36L468.7 943.38L469.7 943.41L470.7 943.44L471.7 943.46L472.7 943.5L473.7 943.59L474.7 943.74L475.7 943.86L476.7 943.88L477.7 943.87L478.7 943.79L479.7 943.78L480.7 943.87L481.7 944L482.7 944.08L483.7 944.06L484.7 944.03L485.7 944.01L486.7 944.02L487.7 944.08L488.7 944.12L489.7 944.1L490.7 944.09L491.7 944.14L492.7 944.15L493.7 944.18L494.7 944.26L495.7 944.28L496.7 944.26L497.7 944.22L498.7 944.23L499.7 944.24L500.7 944.26L501.7 944.32L502.7 944.33L503.7 944.3L504.7 944.34L505.7 944.4L506.7 944.48L507.7 944.48L508.7 944.41L509.7 944.48L510.7 944.56L511.7 944.53L512.7 944.48L513.7 944.43L514.7 944.44L515.7 944.52L516.7 944.54L517.7 944.58L518.7 944.64L519.7 944.6L520.7 944.61L521.7 944.66L522.7 944.66L523.7 944.68L524.7 944.7L525.7 944.67L526.7 944.6L527.7 944.63L528.7 944.75L529.7 944.77L530.7 944.72L531.7 944.74L532.7 944.8L533.7 944.76L534.7 944.74L535.7 944.79L536.7 944.76L537.7 944.76L538.7 944.78L539.7 944.78L540.7 944.83L541.7 944.88L542.7 944.89L543.7 944.91L544.7 944.95L545.7 944.92L546.7 944.89L547.7 944.9L548.7 944.84L549.7 944.83L550.7 944.89L551.7 944.84L552.7 944.82L553.7 944.92L554.7 944.98L555.7 945.05L556.7 945.1L557.7 945.08L558.7 945.04L559.7 945L560.7 944.99L561.7 945.04L562.7 945.06L563.7 945.05L564.7 945.07L565.7 945.09L566.7 945.12L567.7 945.13L568.7 945.1L569.7 945.04L570.7 945.07L571.7 945.17L572.7 945.17L573.7 945.07L574.7 945.05L575.7 945.09L576.7 945.09L577.7 945.11L578.7 945.16L579.7 945.19L580.7 945.14L581.7 945.04L582.7 945.02L583.7 945.13L584.7 945.25L585.7 945.22L586.7 945.2L587.7 945.22L588.7 945.21L589.7 945.19L590.7 945.12L591.7 945.13L592.7 945.18L593.7 945.18L594.7 945.22L595.7 945.27L596.7 945.28L597.7 945.22L598.7 945.22L599.2 945.28" fill="none" stroke="#4a9aa8" stroke-width="2.4" stroke-linejoin="round" stroke-linecap="round" clip-path="url(#cc)"/><path d="M88.9 943.73L89.9 943.71L90.9 943.62L91.9 943.55L92.9 943.55L93.9 943.55L94.9 943.62L95.9 943.67L96.9 943.66L97.9 943.63L98.9 943.57L99.9 943.51L100.9 943.53L101.9 943.55L102.9 943.49L103.9 943.42L104.9 943.4L105.9 943.38L106.9 943.4L107.9 943.4L108.9 943.37L109.9 943.33L110.9 943.31L111.9 943.29L112.9 943.25L113.9 943.3L114.9 943.33L115.9 943.26L116.9 943.3L117.9 943.34L118.9 943.19L119.9 943.08L120.9 943.16L121.9 943.29L122.9 943.26L123.9 943.13L124.9 943.1L125.9 943.08L126.9 942.99L127.9 942.96L128.9 943.01L129.9 943L130.9 942.99L131.9 943.03L132.9 943.08L133.9 943.01L134.9 942.88L135.9 942.88L136.9 942.9L137.9 942.82L138.9 942.8L139.9 942.8L140.9 942.71L141.9 942.66L142.9 942.68L143.9 942.73L144.9 942.75L145.9 942.77L146.9 942.76L147.9 942.73L148.9 942.72L149.9 942.7L150.9 942.64L151.9 942.61L152.9 942.68L153.9 942.73L154.9 942.72L155.9 942.6L156.9 942.48L157.9 942.34L158.9 942.24L159.9 942.33L160.9 942.43L161.9 942.34L162.9 942.28L163.9 942.35L164.9 942.35L165.9 942.31L166.9 942.29L167.9 942.29L168.9 942.25L169.9 942.16L170.9 942.15L171.9 942.18L172.9 942.18L173.9 942.14L174.9 942.17L175.9 942.17L176.9 942.11L177.9 942.02L178.9 941.99L179.9 941.92L180.9 941.81L181.9 941.77L182.9 941.73L183.9 941.64L184.9 941.55L185.9 941.48L186.9 941.45L187.9 941.4L188.9 941.25L189.9 941.16L190.9 941.14L191.9 941.04L192.9 940.91L193.9 940.79L194.9 940.68L195.9 940.59L196.9 940.46L197.9 940.3L198.9 940.12L199.9 939.99L200.9 939.98L201.9 939.96L202.9 939.86L203.9 939.75L204.9 939.6L205.9 939.42L206.9 939.27L207.9 939.2L208.9 939.18L209.9 939.04L210.9 938.82L211.9 938.72L212.9 938.65L213.9 938.52L214.9 938.38L215.9 938.25L216.9 938.18L217.9 938.11L218.9 937.95L219.9 937.77L220.9 937.6L221.9 937.44L222.9 937.31L223.9 937.21L224.9 937.05L225.9 936.79L226.9 936.52L227.9 936.34L228.9 936.18L229.9 935.93L230.9 935.67L231.9 935.52L232.9 935.29L233.9 934.88L234.9 934.56L235.9 934.27L236.9 933.85L237.9 933.42L238.9 933.05L239.9 932.63L240.9 932.17L241.9 931.66L242.9 931.11L243.9 930.63L244.9 930.12L245.9 929.51L246.9 928.84L247.9 928.09L248.9 927.24L249.9 926.25L250.9 925.17L251.9 924.03L252.9 922.88L253.9 921.69L254.9 920.4L255.9 919.08L256.9 917.65L257.9 916.08L258.9 914.4L259.9 912.51L260.9 910.43L261.9 908.38L262.9 906.31L263.9 904.06L264.9 901.57L265.9 898.88L266.9 896.17L267.9 893.39L268.9 890.4L269.9 887.21L270.9 883.86L271.9 880.33L272.9 876.51L273.9 872.43L274.9 868L275.9 863.21L276.9 858.03L277.9 852.29L278.9 845.8L279.9 838.88L280.9 831.88L281.9 825.33L282.9 819L283.9 812.34L284.9 804.88L285.9 795.51L286.9 784.69L287.9 774.22L288.9 764L289.9 754.12L290.9 745.07L291.9 736.44L292.9 727.2L293.9 716.95L294.9 707.16L295.9 698.55L296.9 690.49L297.9 682.42L298.9 674.14L299.9 666.47L300.9 660.06L301.9 654.35L302.9 649.27L303.9 644.71L304.9 640.62L305.9 636.89L306.9 634.03L307.9 632.16L308.9 630.61L309.9 630.12L310.9 631.07L311.9 632.87L312.9 635.17L313.9 638.49L314.9 642.28L315.9 646.54L316.9 651.31L317.9 656.47L318.9 662.03L319.9 667.88L320.9 674.16L321.9 681.15L322.9 689.37L323.9 699.91L324.9 709.72L325.9 718.14L326.9 725.81L327.9 732.68L328.9 738.81L329.9 744.51L330.9 750.05L331.9 755.56L332.9 760.87L333.9 766.14L334.9 771.44L335.9 777.06L336.9 783.44L337.9 790.35L338.9 797.22L339.9 803.41L340.9 808.64L341.9 813.46L342.9 818.03L343.9 822.38L344.9 826.48L345.9 830.41L346.9 834.19L347.9 837.75L348.9 841.2L349.9 844.61L350.9 847.92L351.9 851.08L352.9 854.1L353.9 856.97L354.9 859.81L355.9 862.68L356.9 865.38L357.9 867.93L358.9 870.52L359.9 873.04L360.9 875.38L361.9 877.61L362.9 879.8L363.9 881.84L364.9 883.74L365.9 885.67L366.9 887.68L367.9 889.69L368.9 891.57L369.9 893.36L370.9 895.13L371.9 896.81L372.9 898.37L373.9 899.89L374.9 901.41L375.9 902.93L376.9 904.37L377.9 905.61L378.9 906.71L379.9 907.85L380.9 909.04L381.9 910.08L382.9 911.06L383.9 912.09L384.9 913.08L385.9 913.95L386.9 914.8L387.9 915.64L388.9 916.39L389.9 917.12L390.9 917.94L391.9 918.84L392.9 919.61L393.9 920.26L394.9 920.96L395.9 921.69L396.9 922.43L397.9 923.14L398.9 923.78L399.9 924.38L400.9 924.98L401.9 925.54L402.9 926.12L403.9 926.78L404.9 927.4L405.9 927.97L406.9 928.49L407.9 928.95L408.9 929.45L409.9 929.94L410.9 930.36L411.9 930.71L412.9 931.13L413.9 931.58L414.9 931.98L415.9 932.33L416.9 932.69L417.9 933.05L418.9 933.44L419.9 933.8L420.9 934.02L421.9 934.3L422.9 934.67L423.9 934.91L424.9 935.15L425.9 935.39L426.9 935.62L427.9 935.94L428.9 936.25L429.9 936.47L430.9 936.71L431.9 937.01L432.9 937.24L433.9 937.43L434.9 937.64L435.9 937.82L436.9 938.01L437.9 938.17L438.9 938.39L439.9 938.66L440.9 938.9L441.9 939.07L442.9 939.21L443.9 939.35L444.9 939.53L445.9 939.73L446.9 939.93L447.9 940.09L448.9 940.17L449.9 940.25L450.9 940.37L451.9 940.45L452.9 940.56L453.9 940.77L454.9 940.96L455.9 941.12L456.9 941.21L457.9 941.24L458.9 941.35L459.9 941.52L460.9 941.66L461.9 941.75L462.9 941.8L463.9 941.93L464.9 942.12L465.9 942.22L466.9 942.24L467.9 942.34L468.9 942.36L469.9 942.38L470.9 942.49L471.9 942.49L472.9 942.51L473.9 942.65L474.9 942.72L475.9 942.7L476.9 942.65L477.9 942.66L478.9 942.69L479.9 942.66L480.9 942.74L481.9 942.9L482.9 942.99L483.9 943.01L484.9 942.98L485.9 942.94L486.9 942.96L487.9 942.97L488.9 943.08L489.9 943.14L490.9 943.11L491.9 943.15L492.9 943.17L493.9 943.11L494.9 943.08L495.9 943.17L496.9 943.23L497.9 943.17L498.9 943.18L499.9 943.2L500.9 943.23L501.9 943.33L502.9 943.37L503.9 943.38L504.9 943.4L505.9 943.46L506.9 943.54L507.9 943.45L508.9 943.38L509.9 943.46L510.9 943.47L511.9 943.42L512.9 943.44L513.9 943.53L514.9 943.56L515.9 943.58L516.9 943.58L517.9 943.58L518.9 943.62L519.9 943.63L520.9 943.61L521.9 943.6L522.9 943.64L523.9 943.72L524.9 943.77L525.9 943.74L526.9 943.75L527.9 943.78L528.9 943.79L529.9 943.76L530.9 943.68L531.9 943.59L532.9 943.64L533.9 943.77L534.9 943.82L535.9 943.8L536.9 943.8L537.9 943.81L538.9 943.79L539.9 943.82L540.9 943.9L541.9 943.9L542.9 943.84L543.9 943.84L544.9 943.86L545.9 943.86L546.9 943.84L547.9 943.85L548.9 943.87L549.9 943.84L550.9 943.87L551.9 944.01L552.9 944.1L553.9 944.09L554.9 944L555.9 943.96L556.9 944.03L557.9 944.08L558.9 944.02L559.9 943.94L560.9 943.87L561.9 943.93L562.9 944.03L563.9 943.98L564.9 943.96L565.9 944.02L566.9 944.03L567.9 944.02L568.9 944.08L569.9 944.12L570.9 944.09L571.9 944.05L572.9 944.01L573.9 944.01L574.9 944.08L575.9 944.07L576.9 944.04L577.9 944.1L578.9 944.17L579.9 944.18L580.9 944.21L581.9 944.21L582.9 944.16L583.9 944.16L584.9 944.14L585.9 944.13L586.9 944.18L587.9 944.19L588.9 944.19L589.9 944.18L590.9 944.17L591.9 944.23L592.9 944.26L593.9 944.15L594.9 944.09L595.9 944.19L596.9 944.21L597.9 944.15L598.9 944.12L599.4 944.13" fill="none" stroke="#9494e2" stroke-width="2.4" stroke-linejoin="round" stroke-linecap="round" clip-path="url(#cc)"/><path d="M89.5 943.42L90.5 943.38L91.5 943.29L92.5 943.23L93.5 943.31L94.5 943.4L95.5 943.37L96.5 943.35L97.5 943.43L98.5 943.41L99.5 943.28L100.5 943.24L101.5 943.25L102.5 943.22L103.5 943.22L104.5 943.27L105.5 943.23L106.5 943.13L107.5 943.07L108.5 943.06L109.5 943.07L110.5 943.06L111.5 943.05L112.5 943.07L113.5 943.04L114.5 942.95L115.5 942.85L116.5 942.83L117.5 942.89L118.5 942.91L119.5 942.92L120.5 942.95L121.5 942.93L122.5 942.88L123.5 942.86L124.5 942.87L125.5 942.85L126.5 942.82L127.5 942.81L128.5 942.76L129.5 942.73L130.5 942.71L131.5 942.69L132.5 942.71L133.5 942.72L134.5 942.71L135.5 942.65L136.5 942.63L137.5 942.68L138.5 942.73L139.5 942.7L140.5 942.65L141.5 942.64L142.5 942.57L143.5 942.48L144.5 942.5L145.5 942.51L146.5 942.48L147.5 942.49L148.5 942.44L149.5 942.38L150.5 942.34L151.5 942.27L152.5 942.24L153.5 942.26L154.5 942.27L155.5 942.2L156.5 942.17L157.5 942.21L158.5 942.19L159.5 942.14L160.5 942.16L161.5 942.2L162.5 942.16L163.5 942.16L164.5 942.23L165.5 942.22L166.5 942.18L167.5 942.16L168.5 942.07L169.5 941.95L170.5 941.91L171.5 941.93L172.5 941.9L173.5 941.89L174.5 941.83L175.5 941.7L176.5 941.73L177.5 941.78L178.5 941.71L179.5 941.66L180.5 941.65L181.5 941.61L182.5 941.53L183.5 941.45L184.5 941.4L185.5 941.37L186.5 941.33L187.5 941.21L188.5 941.11L189.5 941.05L190.5 940.98L191.5 940.88L192.5 940.75L193.5 940.6L194.5 940.46L195.5 940.34L196.5 940.25L197.5 940.12L198.5 939.96L199.5 939.85L200.5 939.79L201.5 939.67L202.5 939.51L203.5 939.36L204.5 939.26L205.5 939.18L206.5 939.06L207.5 938.93L208.5 938.82L209.5 938.71L210.5 938.62L211.5 938.49L212.5 938.33L213.5 938.22L214.5 938.12L215.5 938.06L216.5 937.96L217.5 937.73L218.5 937.57L219.5 937.45L220.5 937.36L221.5 937.33L222.5 937.21L223.5 937.04L224.5 936.88L225.5 936.73L226.5 936.53L227.5 936.3L228.5 936.09L229.5 935.85L230.5 935.65L231.5 935.46L232.5 935.12L233.5 934.87L234.5 934.67L235.5 934.3L236.5 933.95L237.5 933.61L238.5 933.15L239.5 932.74L240.5 932.38L241.5 931.9L242.5 931.37L243.5 930.87L244.5 930.32L245.5 929.72L246.5 929.19L247.5 928.6L248.5 927.81L249.5 926.9L250.5 926.01L251.5 925.05L252.5 923.91L253.5 922.71L254.5 921.43L255.5 920.13L256.5 918.87L257.5 917.4L258.5 915.78L259.5 914.07L260.5 912.2L261.5 910.23L262.5 908.17L263.5 905.97L264.5 903.62L265.5 901.17L266.5 898.62L267.5 895.82L268.5 892.88L269.5 889.95L270.5 886.88L271.5 883.6L272.5 880.11L273.5 876.3L274.5 872.16L275.5 867.68L276.5 862.84L277.5 857.7L278.5 852.08L279.5 845.52L280.5 838.43L281.5 831.42L282.5 824.93L283.5 818.68L284.5 812.09L285.5 804.55L286.5 795.09L287.5 784.35L288.5 774L289.5 763.87L290.5 753.97L291.5 744.84L292.5 736.2L293.5 726.88L294.5 716.45L295.5 706.73L296.5 698.35L297.5 690.4L298.5 682.31L299.5 673.94L300.5 666.17L301.5 659.76L302.5 654.03L303.5 648.94L304.5 644.44L305.5 640.43L306.5 636.73L307.5 633.79L308.5 631.8L309.5 630.22L310.5 629.76L311.5 630.7L312.5 632.4L313.5 634.7L314.5 638.16L315.5 642.03L316.5 646.24L317.5 650.98L318.5 656.19L319.5 661.72L320.5 667.47L321.5 673.69L322.5 680.79L323.5 689.14L324.5 699.73L325.5 709.55L326.5 717.84L327.5 725.54L328.5 732.54L329.5 738.55L330.5 744.1L331.5 749.71L332.5 755.3L333.5 760.52L334.5 765.69L335.5 771.1L336.5 776.83L337.5 783.18L338.5 789.97L339.5 796.76L340.5 803.04L341.5 808.37L342.5 813.13L343.5 817.64L344.5 822.03L345.5 826.21L346.5 830.14L347.5 833.88L348.5 837.55L349.5 841.13L350.5 844.53L351.5 847.77L352.5 850.88L353.5 853.88L354.5 856.79L355.5 859.65L356.5 862.37L357.5 865.02L358.5 867.67L359.5 870.18L360.5 872.63L361.5 875L362.5 877.31L363.5 879.51L364.5 881.54L365.5 883.52L366.5 885.42L367.5 887.26L368.5 889.16L369.5 891.08L370.5 892.91L371.5 894.68L372.5 896.39L373.5 898.04L374.5 899.69L375.5 901.24L376.5 902.6L377.5 903.84L378.5 905.14L379.5 906.47L380.5 907.69L381.5 908.76L382.5 909.72L383.5 910.71L384.5 911.71L385.5 912.67L386.5 913.6L387.5 914.49L388.5 915.28L389.5 916.05L390.5 916.85L391.5 917.69L392.5 918.49L393.5 919.19L394.5 919.84L395.5 920.52L396.5 921.26L397.5 922.01L398.5 922.71L399.5 923.42L400.5 924.15L401.5 924.79L402.5 925.38L403.5 925.96L404.5 926.54L405.5 927.13L406.5 927.68L407.5 928.21L408.5 928.7L409.5 929.19L410.5 929.69L411.5 930.12L412.5 930.52L413.5 930.9L414.5 931.2L415.5 931.52L416.5 931.89L417.5 932.31L418.5 932.73L419.5 933.11L420.5 933.43L421.5 933.67L422.5 933.96L423.5 934.22L424.5 934.46L425.5 934.81L426.5 935.18L427.5 935.48L428.5 935.74L429.5 935.98L430.5 936.23L431.5 936.48L432.5 936.7L433.5 936.93L434.5 937.17L435.5 937.37L436.5 937.57L437.5 937.76L438.5 937.91L439.5 938.07L440.5 938.34L441.5 938.64L442.5 938.77L443.5 938.87L444.5 939.08L445.5 939.34L446.5 939.48L447.5 939.47L448.5 939.52L449.5 939.67L450.5 939.87L451.5 940.08L452.5 940.29L453.5 940.42L454.5 940.55L455.5 940.72L456.5 940.8L457.5 940.91L458.5 941.03L459.5 941.1L460.5 941.23L461.5 941.36L462.5 941.47L463.5 941.59L464.5 941.65L465.5 941.73L466.5 941.85L467.5 941.93L468.5 941.99L469.5 942.07L470.5 942.15L471.5 942.18L472.5 942.19L473.5 942.26L474.5 942.35L475.5 942.42L476.5 942.42L477.5 942.39L478.5 942.35L479.5 942.36L480.5 942.41L481.5 942.48L482.5 942.57L483.5 942.67L484.5 942.74L485.5 942.73L486.5 942.62L487.5 942.57L488.5 942.71L489.5 942.84L490.5 942.88L491.5 942.9L492.5 942.85L493.5 942.83L494.5 942.91L495.5 942.95L496.5 942.91L497.5 942.88L498.5 942.95L499.5 943L500.5 942.97L501.5 943.01L502.5 943.09L503.5 943.14L504.5 943.11L505.5 943.05L506.5 943.06L507.5 943.08L508.5 943.05L509.5 943.09L510.5 943.14L511.5 943.11L512.5 943.2L513.5 943.32L514.5 943.33L515.5 943.34L516.5 943.35L517.5 943.32L518.5 943.25L519.5 943.27L520.5 943.32L521.5 943.3L522.5 943.24L523.5 943.25L524.5 943.32L525.5 943.37L526.5 943.34L527.5 943.28L528.5 943.29L529.5 943.35L530.5 943.38L531.5 943.38L532.5 943.37L533.5 943.36L534.5 943.4L535.5 943.49L536.5 943.49L537.5 943.43L538.5 943.44L539.5 943.51L540.5 943.59L541.5 943.58L542.5 943.59L543.5 943.56L544.5 943.42L545.5 943.45L546.5 943.57L547.5 943.6L548.5 943.59L549.5 943.57L550.5 943.59L551.5 943.65L552.5 943.75L553.5 943.75L554.5 943.66L555.5 943.6L556.5 943.56L557.5 943.61L558.5 943.67L559.5 943.67L560.5 943.69L561.5 943.75L562.5 943.81L563.5 943.76L564.5 943.67L565.5 943.64L566.5 943.71L567.5 943.85L568.5 943.91L569.5 943.84L570.5 943.77L571.5 943.79L572.5 943.84L573.5 943.89L574.5 943.89L575.5 943.86L576.5 943.85L577.5 943.86L578.5 943.85L579.5 943.82L580.5 943.86L581.5 943.88L582.5 943.87L583.5 943.87L584.5 943.85L585.5 943.83L586.5 943.86L587.5 943.89L588.5 943.92L589.5 943.93L590.5 943.85L591.5 943.79L592.5 943.85L593.5 943.91L594.5 943.87L595.5 943.84L596.5 943.94L597.5 944.01L598.5 943.97L599.5 943.98L600 943.99" fill="none" stroke="#5c5c8c" stroke-width="2.2" stroke-linejoin="round" stroke-linecap="round" clip-path="url(#cc)"/><rect x="88.6" y="567.3" width="510.8" height="379.3" fill="none" stroke="#000" stroke-width="2.6"/><text x="88" y="976.2" font-size="26.3" text-anchor="middle" fill="#000">400</text><text x="215.85" y="976.2" font-size="26.3" text-anchor="middle" fill="#000">450</text><text x="343.7" y="976.2" font-size="26.3" text-anchor="middle" fill="#000">500</text><text x="471.55" y="976.2" font-size="26.3" text-anchor="middle" fill="#000">550</text><text x="599.4" y="976.2" font-size="26.3" text-anchor="middle" fill="#000">600</text><text x="344" y="1018" font-size="26.8" text-anchor="middle" fill="#000">Wavelength (nm)</text><text x="62.3" y="756.3" font-size="26.8" text-anchor="middle" transform="rotate(-90 62.3 756.3)" fill="#000">Norm. PL Intenisty (a.u.)</text><line x1="105.8" y1="591.6" x2="166.2" y2="591.6" stroke="#16168a" stroke-width="2.2" stroke-linecap="round"/><text x="172.4" y="600.9" font-size="26.8" text-anchor="start" fill="#000">0 &#176;C</text><line x1="105.8" y1="624.38" x2="166.2" y2="624.38" stroke="#1c1cd0" stroke-width="2.2" stroke-linecap="round"/><text x="172.4" y="633.68" font-size="26.8" text-anchor="start" fill="#000">4 &#176;C</text><line x1="105.8" y1="657.16" x2="166.2" y2="657.16" stroke="#66d8e8" stroke-width="2.2" stroke-linecap="round"/><text x="172.4" y="666.46" font-size="26.8" text-anchor="start" fill="#000">8 &#176;C</text><line x1="105.8" y1="689.94" x2="166.2" y2="689.94" stroke="#9494e2" stroke-width="2.2" stroke-linecap="round"/><text x="172.4" y="699.24" font-size="26.8" text-anchor="start" fill="#000">12 &#176;C</text><line x1="105.8" y1="722.72" x2="166.2" y2="722.72" stroke="#4a9aa8" stroke-width="2.2" stroke-linecap="round"/><text x="172.4" y="732.02" font-size="26.8" text-anchor="start" fill="#000">16 &#176;C</text><line x1="105.8" y1="755.5" x2="166.2" y2="755.5" stroke="#5c5c8c" stroke-width="2.2" stroke-linecap="round"/><text x="172.4" y="764.8" font-size="26.8" text-anchor="start" fill="#000">20 &#176;C</text><path d="M412.5 748.42L413.5 745.63L414.5 742.95L415.5 740.22L416.5 737.38L417.5 734.6L418.5 731.86L419.5 729.02L420.5 726.15L421.5 723.33L422.5 720.35L423.5 717.27L424.5 714.31L425.5 711.5L426.5 708.82L427.5 706.49L428.5 704.49L429.5 702.5L430.5 700.5L431.5 698.65L432.5 696.91L433.5 695.34L434.5 694.14L435.5 693.39L436.5 692.82L437.5 692.04L438.5 691.24L439.5 690.6L440.5 689.76L441.5 688.56L442.5 686.86L443.5 684.96L444.5 683.11L445.5 681.53L446.5 680.18L447.5 679.01L448.5 677.88L449.5 676.8L450.5 675.84L451.5 674.77L452.5 673.76L453.5 673.16L454.5 672.64L455.5 671.89L456.5 671.16L457.5 670.67L458.5 670.27L459.5 669.93L460.5 669.6L461.5 669.08L462.5 668.58L463.5 668.26L464.5 667.96L465.5 667.62L466.5 667.25L467.5 666.94L468.5 666.67L469.5 666.47L470.5 666.35L471.5 666.09L472.5 665.65L473.5 665.18L474.5 664.86L475.5 664.6L476.5 664.04L477.5 663.35L478.5 662.74L479.5 662.03L480.5 661.46L481.5 661.15L482.5 660.86L483.5 660.81L484.5 660.85L485.5 660.71L486.5 660.51L487.5 660.45L488.5 660.52L489.5 661.47L490.5 663.3L491.5 665.23L492.5 666.52L493.5 667.26L494.5 667.82L495.5 668.26L496.5 668.69L497.5 669.16L498.5 669.62L499.5 670.18L500.5 670.74L501.5 671.05L502.5 671.29L503.5 671.62L504.5 672.05L505.5 672.68L506.5 673.46L507.5 674.61L508.5 676.24L509.5 678.27L510.5 680.61L511.5 683.03L512.5 685.08L513.5 686.62L514.5 687.96L515.5 689.55L516.5 691.31L517.5 692.94L518.5 694.54L519.5 696.25L520.5 698.11L521.5 699.92L522.5 701.87L523.5 703.96L524.5 705.75L525.5 707.49L526.5 709.6L527.5 711.8L528.5 713.95L529.5 716.14L530.5 718.28L531.5 720.49L532.5 722.87L533.5 725.45L534.5 728.05L535.5 730.56L536.5 733.17L537.5 735.99L538.5 738.97L539.5 742.04L540.5 745.38L541.4 748.56" fill="none" stroke="#5c5c8c" stroke-width="1.4" stroke-linejoin="round" stroke-linecap="round" clip-path="url(#ci)"/><path d="M412.5 748.56L413.5 745.37L414.5 742.13L415.5 738.92L416.5 735.94L417.5 733.19L418.5 730.38L419.5 727.49L420.5 724.76L421.5 722.21L422.5 719.55L423.5 716.77L424.5 714.11L425.5 711.59L426.5 709.18L427.5 706.92L428.5 704.79L429.5 702.8L430.5 700.8L431.5 698.97L432.5 697.23L433.5 695.3L434.5 693.51L435.5 691.91L436.5 690.3L437.5 688.92L438.5 687.57L439.5 686.08L440.5 684.52L441.5 683.09L442.5 681.92L443.5 680.68L444.5 679.43L445.5 678.3L446.5 676.95L447.5 675.6L448.5 674.55L449.5 673.63L450.5 672.68L451.5 671.61L452.5 670.5L453.5 669.54L454.5 668.71L455.5 667.79L456.5 667.07L457.5 666.53L458.5 665.86L459.5 665.18L460.5 664.54L461.5 663.88L462.5 663.41L463.5 663.07L464.5 662.74L465.5 662.46L466.5 662.12L467.5 661.83L468.5 661.63L469.5 661.36L470.5 661.19L471.5 661.14L472.5 661L473.5 660.77L474.5 660.69L475.5 660.79L476.5 660.98L477.5 661.22L478.5 661.42L479.5 661.71L480.5 662.18L481.5 662.53L482.5 662.68L483.5 663.08L484.5 663.72L485.5 664.4L486.5 665.16L487.5 665.83L488.5 666.63L489.5 667.49L490.5 668.22L491.5 669.28L492.5 670.45L493.5 671.3L494.5 672.11L495.5 673.04L496.5 674.09L497.5 675.29L498.5 676.44L499.5 677.3L500.5 678.35L501.5 679.92L502.5 681.42L503.5 682.57L504.5 683.78L505.5 685.27L506.5 686.78L507.5 688.13L508.5 689.35L509.5 690.57L510.5 692.02L511.5 693.52L512.5 694.77L513.5 696.08L514.5 697.57L515.5 698.93L516.5 700.07L517.5 701.33L518.5 702.67L519.5 703.86L520.5 705.19L521.5 706.67L522.5 707.99L523.5 709.3L524.5 710.88L525.5 712.79L526.5 714.76L527.5 716.79L528.5 718.89L529.5 720.88L530.5 722.97L531.5 725.29L532.5 727.58L533.5 729.8L534.5 732.16L535.5 734.69L536.5 737.25L537.5 739.87L538.5 742.47L539.5 745.04L540.5 747.83L540.7 748.45" fill="none" stroke="#9494e2" stroke-width="1.4" stroke-linejoin="round" stroke-linecap="round" clip-path="url(#ci)"/><path d="M411.8 748.65L412.8 745.41L413.8 742.28L414.8 739.31L415.8 736.34L416.8 733.37L417.8 730.44L418.8 727.7L419.8 725.17L420.8 722.72L421.8 720.37L422.8 717.99L423.8 715.66L424.8 713.54L425.8 711.47L426.8 709.32L427.8 707.22L428.8 705.31L429.8 703.46L430.8 701.61L431.8 699.68L432.8 697.71L433.8 695.93L434.8 694.21L435.8 692.46L436.8 690.86L437.8 689.25L438.8 687.77L439.8 686.43L440.8 684.92L441.8 683.42L442.8 682.05L443.8 680.66L444.8 679.3L445.8 678.18L446.8 677.13L447.8 675.92L448.8 674.7L449.8 673.66L450.8 672.75L451.8 671.77L452.8 670.78L453.8 669.96L454.8 669.23L455.8 668.48L456.8 667.69L457.8 666.93L458.8 666.19L459.8 665.58L460.8 665.03L461.8 664.59L462.8 664.22L463.8 663.72L464.8 663.26L465.8 662.89L466.8 662.59L467.8 662.17L468.8 661.78L469.8 661.66L470.8 661.65L471.8 661.72L472.8 661.74L473.8 661.52L474.8 661.4L475.8 661.56L476.8 661.53L477.8 661.39L478.8 661.53L479.8 661.57L480.8 661.62L481.8 662.51L482.8 663.91L483.8 665.61L484.8 667.57L485.8 669.55L486.8 671.39L487.8 672.99L488.8 674.57L489.8 676.05L490.8 677.45L491.8 678.89L492.8 680.33L493.8 681.84L494.8 683.33L495.8 684.94L496.8 686.65L497.8 688.31L498.8 689.96L499.8 691.55L500.8 693.27L501.8 695.12L502.8 696.74L503.8 698.2L504.8 699.75L505.8 701.3L506.8 702.71L507.8 703.95L508.8 705.23L509.8 706.63L510.8 708L511.8 709.48L512.8 711.07L513.8 712.65L514.8 714.04L515.8 715.35L516.8 716.81L517.8 718.34L518.8 719.83L519.8 721.6L520.8 723.53L521.8 725.28L522.8 727.03L523.8 728.78L524.8 730.53L525.8 732.49L526.8 734.61L527.8 736.71L528.8 738.78L529.8 740.85L530.8 743.1L531.8 745.26L532.8 747.31L533.3 748.47" fill="none" stroke="#4a9aa8" stroke-width="1.4" stroke-linejoin="round" stroke-linecap="round" clip-path="url(#ci)"/><path d="M399 748.48L400 745.38L401 742.51L402 739.55L403 736.46L404 733.69L405 731.17L406 728.62L407 726.08L408 723.67L409 721.41L410 719.11L411 716.82L412 714.67L413 712.51L414 710.44L415 708.6L416 706.92L417 705.42L418 703.94L419 702.45L420 701.13L421 699.9L422 698.51L423 697.06L424 695.7L425 694.3L426 692.79L427 691.21L428 689.7L429 688.12L430 686.33L431 684.57L432 683.03L433 681.65L434 680.23L435 678.65L436 677.06L437 675.66L438 674.4L439 673.1L440 671.72L441 670.41L442 669.31L443 668.3L444 667.27L445 666.25L446 665.23L447 664.28L448 663.45L449 662.82L450 662.32L451 661.93L452 661.72L453 661.56L454 661.37L455 661.32L456 661.26L457 661.08L458 660.92L459 660.74L460 660.71L461 660.83L462 660.9L463 660.94L464 660.9L465 660.78L466 660.78L467 660.85L468 660.76L469 660.61L470 660.58L471 660.68L472 660.81L473 660.87L474 660.85L475 660.81L476 661.15L477 661.83L478 662.67L479 663.6L480 664.85L481 666.64L482 668.76L483 671.08L484 673.5L485 675.71L486 677.64L487 679.45L488 681.15L489 682.74L490 684.25L491 685.79L492 687.36L493 688.93L494 690.67L495 692.57L496 694.58L497 696.62L498 698.59L499 700.7L500 702.9L501 705.01L502 707.13L503 709.24L504 711.4L505 713.65L506 716.08L507 718.58L508 721.13L509 724.04L510 727.16L511 730.32L512 733.77L513 737.55L514 741.49L515 745.57L515.7 748.51" fill="none" stroke="#66d8e8" stroke-width="1.4" stroke-linejoin="round" stroke-linecap="round" clip-path="url(#ci)"/><path d="M398.3 748.39L399.3 745.5L400.3 742.63L401.3 739.66L402.3 736.72L403.3 733.95L404.3 731.06L405.3 728.05L406.3 725.17L407.3 722.41L408.3 719.78L409.3 717.2L410.3 714.43L411.3 711.53L412.3 708.89L413.3 706.46L414.3 703.85L415.3 701.22L416.3 698.79L417.3 696.47L418.3 694.24L419.3 692.03L420.3 689.81L421.3 687.75L422.3 685.85L423.3 683.98L424.3 682.15L425.3 680.6L426.3 679.17L427.3 677.59L428.3 676.09L429.3 674.69L430.3 673.26L431.3 671.98L432.3 670.81L433.3 669.34L434.3 667.72L435.3 666.3L436.3 665L437.3 663.97L438.3 663.44L439.3 662.96L440.3 662.35L441.3 661.75L442.3 661.17L443.3 660.82L444.3 660.66L445.3 660.66L446.3 660.73L447.3 660.68L448.3 660.51L449.3 660.41L450.3 660.48L451.3 660.54L452.3 660.47L453.3 660.33L454.3 660.39L455.3 660.61L456.3 660.66L457.3 660.87L458.3 661.42L459.3 662.09L460.3 662.74L461.3 663.5L462.3 664.47L463.3 665.58L464.3 666.78L465.3 668L466.3 669.19L467.3 670.4L468.3 671.64L469.3 672.82L470.3 673.94L471.3 675.04L472.3 676.13L473.3 677.09L474.3 677.95L475.3 678.83L476.3 679.75L477.3 680.79L478.3 682.01L479.3 683.34L480.3 684.64L481.3 685.98L482.3 687.33L483.3 688.65L484.3 690.11L485.3 691.6L486.3 692.82L487.3 693.85L488.3 694.88L489.3 696.07L490.3 697.39L491.3 698.57L492.3 699.62L493.3 700.73L494.3 701.99L495.3 703.27L496.3 704.51L497.3 705.83L498.3 707.21L499.3 708.55L500.3 709.98L501.3 711.53L502.3 712.89L503.3 714.1L504.3 715.3L505.3 716.48L506.3 717.74L507.3 719.07L508.3 720.5L509.3 722.09L510.3 723.82L511.3 725.77L512.3 727.94L513.3 730.46L514.3 733.3L515.3 736.3L516.3 739.46L517.3 743.01L518.3 747.16L518.6 748.6" fill="none" stroke="#1c1cd0" stroke-width="1.4" stroke-linejoin="round" stroke-linecap="round" clip-path="url(#ci)"/><path d="M389.5 748.33L390.5 744.61L391.5 741.26L392.5 738.16L393.5 735.18L394.5 732.67L395.5 730.68L396.5 728.64L397.5 726.11L398.5 723.06L399.5 719.58L400.5 715.74L401.5 711.79L402.5 708.01L403.5 704.76L404.5 702.44L405.5 700.95L406.5 699.66L407.5 698.25L408.5 696.9L409.5 695.6L410.5 694.13L411.5 692.46L412.5 690.59L413.5 688.26L414.5 685.54L415.5 682.79L416.5 680.18L417.5 677.47L418.5 674.7L419.5 672.34L420.5 670.47L421.5 668.85L422.5 667.46L423.5 666.69L424.5 666.37L425.5 666.39L426.5 666.66L427.5 667.03L428.5 667.58L429.5 668.11L430.5 668.26L431.5 667.93L432.5 666.97L433.5 665.94L434.5 665.53L435.5 665.17L436.5 664.55L437.5 663.95L438.5 663.24L439.5 662.28L440.5 661.41L441.5 661.07L442.5 660.97L443.5 660.86L444.5 660.77L445.5 660.61L446.5 660.88L447.5 661.84L448.5 663.59L449.5 666.29L450.5 667.52L451.5 667.18L452.5 666.59L453.5 665.99L454.5 665.42L455.5 664.83L456.5 664.27L457.5 664.12L458.5 664.59L459.5 665.49L460.5 666.52L461.5 667.55L462.5 669.16L463.5 671.05L464.5 672.45L465.5 672.89L466.5 672.62L467.5 671.94L468.5 671.03L469.5 670.32L470.5 669.79L471.5 669.13L472.5 668.62L473.5 668.43L474.5 668.81L475.5 670.02L476.5 671.55L477.5 672.56L478.5 673.01L479.5 673.28L480.5 673.61L481.5 674.27L482.5 675.4L483.5 676.95L484.5 678.79L485.5 680.86L486.5 682.85L487.5 684.73L488.5 686.52L489.5 688.14L490.5 689.67L491.5 691.22L492.5 692.53L493.5 693.52L494.5 694.61L495.5 695.87L496.5 697.3L497.5 699.65L498.5 702.54L499.5 704.7L500.5 706.14L501.5 707.25L502.5 708.3L503.5 709.42L504.5 710.8L505.5 712.57L506.5 714.59L507.5 716.9L508.5 719.44L509.5 722.08L510.5 724.65L511.5 727.02L512.5 729.24L513.5 731.57L514.5 734.19L515.5 736.92L516.5 739.81L517.5 742.98L518.5 746.26L519.2 748.59" fill="none" stroke="#16168a" stroke-width="1.4" stroke-linejoin="round" stroke-linecap="round" clip-path="url(#ci)"/><rect x="345.6" y="573.4" width="236" height="173.9" fill="none" stroke="#222" stroke-width="1.3"/><line x1="371.5" y1="747.3" x2="371.5" y2="745.3" stroke="#222" stroke-width="1.1" stroke-linecap="butt"/><line x1="397.7" y1="747.3" x2="397.7" y2="744.1" stroke="#222" stroke-width="1.1" stroke-linecap="butt"/><line x1="424" y1="747.3" x2="424" y2="745.3" stroke="#222" stroke-width="1.1" stroke-linecap="butt"/><line x1="450.4" y1="747.3" x2="450.4" y2="744.1" stroke="#222" stroke-width="1.1" stroke-linecap="butt"/><line x1="476.9" y1="747.3" x2="476.9" y2="745.3" stroke="#222" stroke-width="1.1" stroke-linecap="butt"/><line x1="503" y1="747.3" x2="503" y2="744.1" stroke="#222" stroke-width="1.1" stroke-linecap="butt"/><line x1="529" y1="747.3" x2="529" y2="745.3" stroke="#222" stroke-width="1.1" stroke-linecap="butt"/><line x1="555.3" y1="747.3" x2="555.3" y2="744.1" stroke="#222" stroke-width="1.1" stroke-linecap="butt"/><rect x="786.65" y="625.25" width="62" height="16.3" rx="1" fill="url(#h6)" stroke="#1a10e0" stroke-width="2.7" stroke-linejoin="round"/><rect x="864.75" y="660.65" width="62.3" height="31.7" rx="1" fill="url(#h7)" stroke="#60e0ec" stroke-width="2.7" stroke-linejoin="round"/><line x1="864.75" y1="676.5" x2="927.05" y2="676.5" stroke="#60e0ec" stroke-width="2.2" stroke-linecap="butt"/><rect x="943.15" y="659.65" width="61.9" height="48.6" rx="1" fill="url(#h8)" stroke="#9c9cf0" stroke-width="2.7" stroke-linejoin="round"/><line x1="943.15" y1="683.8" x2="1005.05" y2="683.8" stroke="#9c9cf0" stroke-width="2.2" stroke-linecap="butt"/><rect x="1021.55" y="772.05" width="61.7" height="24.2" rx="1" fill="url(#h9)" stroke="#4aa0b0" stroke-width="2.7" stroke-linejoin="round"/><line x1="1021.55" y1="783.9" x2="1083.25" y2="783.9" stroke="#4aa0b0" stroke-width="2.2" stroke-linecap="butt"/><rect x="1099.55" y="756.95" width="61.8" height="46.7" rx="1" fill="url(#h10)" stroke="#5c5c90" stroke-width="2.7" stroke-linejoin="round"/><line x1="1099.55" y1="780" x2="1161.35" y2="780" stroke="#5c5c90" stroke-width="2.2" stroke-linecap="butt"/><rect x="1177.85" y="765.75" width="61.8" height="80.3" rx="1" fill="url(#h11)" stroke="#a8b8d0" stroke-width="2.7" stroke-linejoin="round"/><line x1="1177.85" y1="806.4" x2="1239.65" y2="806.4" stroke="#a8b8d0" stroke-width="2.2" stroke-linecap="butt"/><rect x="778.5" y="569.8" width="469.4" height="381.2" fill="none" stroke="#000" stroke-width="2.6"/><line x1="778.5" y1="903.3" x2="782" y2="903.3" stroke="#000" stroke-width="2.2" stroke-linecap="butt"/><line x1="778.5" y1="855.8" x2="785" y2="855.8" stroke="#000" stroke-width="2.2" stroke-linecap="butt"/><line x1="778.5" y1="808.3" x2="782" y2="808.3" stroke="#000" stroke-width="2.2" stroke-linecap="butt"/><line x1="778.5" y1="760.8" x2="785" y2="760.8" stroke="#000" stroke-width="2.2" stroke-linecap="butt"/><line x1="778.5" y1="713.3" x2="782" y2="713.3" stroke="#000" stroke-width="2.2" stroke-linecap="butt"/><line x1="778.5" y1="665.8" x2="785" y2="665.8" stroke="#000" stroke-width="2.2" stroke-linecap="butt"/><line x1="778.5" y1="618.3" x2="782" y2="618.3" stroke="#000" stroke-width="2.2" stroke-linecap="butt"/><text x="771" y="959.4" font-size="26.3" text-anchor="end" fill="#000">40</text><text x="771" y="864.4" font-size="26.3" text-anchor="end" fill="#000">50</text><text x="771" y="769.4" font-size="26.3" text-anchor="end" fill="#000">60</text><text x="771" y="674.4" font-size="26.3" text-anchor="end" fill="#000">70</text><text x="771" y="579.4" font-size="26.3" text-anchor="end" fill="#000">80</text><line x1="817.5" y1="951" x2="817.5" y2="944.5" stroke="#000" stroke-width="2.2" stroke-linecap="butt"/><text x="817.5" y="979.2" font-size="26.3" text-anchor="middle" fill="#000">0</text><line x1="895.72" y1="951" x2="895.72" y2="944.5" stroke="#000" stroke-width="2.2" stroke-linecap="butt"/><text x="895.72" y="979.2" font-size="26.3" text-anchor="middle" fill="#000">4</text><line x1="973.94" y1="951" x2="973.94" y2="944.5" stroke="#000" stroke-width="2.2" stroke-linecap="butt"/><text x="973.94" y="979.2" font-size="26.3" text-anchor="middle" fill="#000">8</text><line x1="1052.16" y1="951" x2="1052.16" y2="944.5" stroke="#000" stroke-width="2.2" stroke-linecap="butt"/><text x="1052.16" y="979.2" font-size="26.3" text-anchor="middle" fill="#000">12</text><line x1="1130.38" y1="951" x2="1130.38" y2="944.5" stroke="#000" stroke-width="2.2" stroke-linecap="butt"/><text x="1130.38" y="979.2" font-size="26.3" text-anchor="middle" fill="#000">16</text><line x1="1208.6" y1="951" x2="1208.6" y2="944.5" stroke="#000" stroke-width="2.2" stroke-linecap="butt"/><text x="1208.6" y="979.2" font-size="26.3" text-anchor="middle" fill="#000">20</text><text x="1008.7" y="1023.7" font-size="26.2" text-anchor="middle" fill="#000">Injection temperature (&#176;C)</text><text x="712.4" y="748" font-size="26.8" text-anchor="middle" transform="rotate(-90 712.4 748)" fill="#000">PLQY (%)</text><line x1="150.72" y1="1454.7" x2="150.72" y2="1451.2" stroke="#000" stroke-width="2.2" stroke-linecap="butt"/><line x1="214.65" y1="1454.7" x2="214.65" y2="1448.2" stroke="#000" stroke-width="2.2" stroke-linecap="butt"/><line x1="278.57" y1="1454.7" x2="278.57" y2="1451.2" stroke="#000" stroke-width="2.2" stroke-linecap="butt"/><line x1="342.5" y1="1454.7" x2="342.5" y2="1448.2" stroke="#000" stroke-width="2.2" stroke-linecap="butt"/><line x1="406.43" y1="1454.7" x2="406.43" y2="1451.2" stroke="#000" stroke-width="2.2" stroke-linecap="butt"/><line x1="470.35" y1="1454.7" x2="470.35" y2="1448.2" stroke="#000" stroke-width="2.2" stroke-linecap="butt"/><line x1="534.27" y1="1454.7" x2="534.27" y2="1451.2" stroke="#000" stroke-width="2.2" stroke-linecap="butt"/><path d="M87.5 1453.62L89 1454.08L90.5 1454.35L92 1454.44L93.5 1454.57L95 1453.84L96.5 1453.94L98 1453.57L99.5 1453.14L101 1453.4L102.5 1453.7L104 1453.42L105.5 1453.72L107 1454.25L108.5 1454.14L110 1454.07L111.5 1453.93L113 1453.56L114.5 1453.08L116 1453.85L117.5 1453.25L119 1453.69L120.5 1453.72L122 1453.79L123.5 1453.8L125 1453.68L126.5 1453.93L128 1453.33L129.5 1453.76L131 1453.18L132.5 1453.97L134 1453.61L135.5 1453.91L137 1454.12L138.5 1452.88L140 1453.38L141.5 1453.93L143 1454.17L144.5 1454.31L146 1454.03L147.5 1453.89L149 1453.72L150.5 1453.72L152 1453.73L153.5 1454.01L155 1453.79L156.5 1454L158 1454.39L159.5 1454.14L161 1453.49L162.5 1453.52L164 1453.76L165.5 1453.14L167 1452.58L168.5 1452.94L170 1453.59L171.5 1453.39L173 1453.34L174.5 1453.62L176 1453.24L177.5 1454.27L179 1453.57L180.5 1453.42L182 1454.09L183.5 1453.01L185 1453L186.5 1453.13L188 1452.83L189.5 1453.08L191 1453.48L192.5 1453.34L194 1453.28L195.5 1453.78L197 1454.21L198.5 1453.79L200 1452.46L201.5 1453.55L203 1453.55L204.5 1453.16L206 1452.51L207.5 1452.59L209 1452.58L210.5 1452.27L212 1453.25L213.5 1453.2L215 1452.59L216.5 1452.21L218 1453.04L219.5 1452.9L221 1452.8L222.5 1452.33L224 1453.18L225.5 1452.37L227 1452.61L228.5 1451.03L230 1451.61L231.5 1451.35L233 1450.1L234.5 1450.58L236 1450.34L237.5 1450.12L239 1450.25L240.5 1450.14L242 1450.75L243.5 1450.83L245 1450.47L246.5 1449.76L248 1449.92L249.5 1450.74L251 1449.78L252.5 1449.5L254 1449.2L255.5 1449.63L257 1449.8L258.5 1449.59L260 1449.24L261.5 1449.08L263 1448.52L264.5 1448.52L266 1447.64L267.5 1447.96L269 1448.09L270.5 1447.07L272 1447.59L273.5 1447.09L275 1445.76L276.5 1444.98L278 1444.72L279.5 1444.97L281 1445.57L282.5 1445.52L284 1445.94L285.5 1446.03L287 1443.85L288.5 1442.16L290 1441.85L291.5 1441.38L293 1441.83L294.5 1442L296 1442.47L297.5 1440.62L299 1440.67L300.5 1440.45L302 1440.04L303.5 1439.72L305 1440.76L306.5 1439.1L308 1438.53L309.5 1438.49L311 1437.98L312.5 1438.07L314 1435.72L315.5 1435.39L317 1434.82L318.5 1434.67L320 1434.64L321.5 1432.8L323 1431.18L324.5 1431.7L326 1430.77L327.5 1431.15L329 1430.74L330.5 1431.19L332 1429.22L333.5 1427.21L335 1427.24L336.5 1426.99L338 1425.34L339.5 1424.05L341 1422.78L342.5 1421.47L344 1420.29L345.5 1420.82L347 1418.96L348.5 1416.39L350 1416.86L351.5 1415.09L353 1413.61L354.5 1412.2L356 1410.73L357.5 1406.18L359 1405.78L360.5 1404.64L362 1401.6L363.5 1397.76L365 1395.93L366.5 1395.65L368 1394.32L369.5 1388.99L371 1387.6L372.5 1386.58L374 1384.39L375.5 1382.42L377 1380.59L378.5 1377.1L380 1371.89L381.5 1369.67L383 1366.33L384.5 1364.76L386 1363.54L387.5 1360.25L389 1357.92L390.5 1353.24L392 1348.7L393.5 1344.05L395 1337.77L396.5 1333.94L398 1330.74L399.5 1326.57L401 1321.22L402.5 1314.05L404 1308.41L405.5 1304.2L407 1303.03L408.5 1296.28L410 1291.74L411.5 1285.57L413 1279.99L414.5 1274.58L416 1269.15L417.5 1264.72L419 1259.93L420.5 1251.7L422 1247.61L423.5 1242.06L425 1236.75L426.5 1233.71L428 1229.55L429.5 1220.26L431 1217.44L432.5 1215.13L434 1209.8L435.5 1201.74L437 1200.01L438.5 1194.74L440 1190.12L441.5 1186.67L443 1178.89L444.5 1174.16L446 1168.48L447.5 1160.45L449 1155.79L450.5 1156.56L452 1149.6L453.5 1149.77L455 1145.21L456.5 1144.17L458 1142.06L459.5 1141.88L461 1140.44L462.5 1137.26L464 1138.38L465.5 1140.11L467 1136.86L468.5 1134.91L470 1139.58L471.5 1139.52L473 1141.51L474.5 1140.66L476 1140.04L477.5 1141.33L479 1142.26L480.5 1140.03L482 1136.08L483.5 1139.25L485 1149.08L486.5 1162.14L488 1167.08L489.5 1170.45L491 1176.96L492.5 1183.85L494 1184.35L495.5 1189.2L497 1195.57L498.5 1199.82L500 1203.01L501.5 1204.68L503 1209.32L504.5 1210.84L506 1218.08L507.5 1222.97L509 1228.12L510.5 1235.25L512 1238.14L513.5 1242.77L515 1249.74L516.5 1256.27L518 1258.45L519.5 1265.94L521 1272.16L522.5 1276.97L524 1283.27L525.5 1288.78L527 1291.38L528.5 1294.38L530 1299.07L531.5 1303.98L533 1312.45L534.5 1321.45L536 1328.82L537.5 1328.17L539 1334.38L540.5 1336.42L542 1340.38L543.5 1337.92L545 1337.23L546.5 1345.37L548 1348.83L549.5 1345.95L551 1353.32L552.5 1358.26L554 1361.37L555.5 1369.62L557 1372.58L558.5 1380.55L560 1384.58L561.5 1383.28L563 1385.32L564.5 1387.44L566 1384.48L567.5 1388.8L569 1394.38L570.5 1402.26L572 1401.26L573.5 1398.38L575 1396.69L576.5 1401.2L578 1401.98L579.5 1400.06L581 1403.59L582.5 1403.55L584 1405.61L585.5 1403.06L587 1416.37L588.5 1416.13L590 1416.28L591.5 1418.66L593 1418.02L594.5 1420.3L596 1418.84L597.5 1410.56L598.5 1403.98" fill="none" stroke="#3c1c0c" stroke-width="2.9" stroke-linejoin="round" stroke-linecap="round" clip-path="url(#ce)"/><path d="M87.5 1451.53L89 1451.72L90.5 1452.27L92 1452.04L93.5 1452.45L95 1452.42L96.5 1451.59L98 1452.34L99.5 1452.06L101 1453.01L102.5 1452.46L104 1451.74L105.5 1451.93L107 1451.99L108.5 1452.12L110 1452.53L111.5 1452.29L113 1452.61L114.5 1452.1L116 1451.4L117.5 1450.59L119 1450.57L120.5 1451.46L122 1451.93L123.5 1452.1L125 1451.17L126.5 1451.15L128 1450.77L129.5 1450.62L131 1450L132.5 1451.13L134 1450.74L135.5 1450.92L137 1451.2L138.5 1450.97L140 1450.36L141.5 1451.51L143 1451.36L144.5 1450.96L146 1450.17L147.5 1449.49L149 1449.47L150.5 1450.21L152 1450.41L153.5 1450.24L155 1451.26L156.5 1450.77L158 1450.91L159.5 1450.67L161 1449.79L162.5 1450.56L164 1450.26L165.5 1449.45L167 1450.32L168.5 1450.68L170 1450.63L171.5 1450.32L173 1449.07L174.5 1449.33L176 1449.31L177.5 1449.56L179 1449.72L180.5 1450.18L182 1449.84L183.5 1449.06L185 1449.86L186.5 1450.24L188 1449.3L189.5 1448.15L191 1448.39L192.5 1448.5L194 1447.83L195.5 1448.26L197 1447.96L198.5 1448.88L200 1448.88L201.5 1448.17L203 1447.45L204.5 1447.93L206 1447.4L207.5 1447.29L209 1447.91L210.5 1446.72L212 1446.15L213.5 1447.24L215 1447.84L216.5 1447.48L218 1446.83L219.5 1446.91L221 1445.57L222.5 1446.5L224 1446.12L225.5 1444.29L227 1443.83L228.5 1442.46L230 1442.22L231.5 1442.66L233 1441.5L234.5 1441.8L236 1441.69L237.5 1441.19L239 1441.42L240.5 1441.53L242 1440.1L243.5 1440.03L245 1439.75L246.5 1437.9L248 1436.68L249.5 1435.3L251 1436.75L252.5 1437.09L254 1436.5L255.5 1437.09L257 1436.32L258.5 1435.05L260 1433.63L261.5 1432.49L263 1432.69L264.5 1432.57L266 1431.63L267.5 1430.79L269 1430.33L270.5 1430.21L272 1428.09L273.5 1428.28L275 1428.34L276.5 1428.31L278 1427.61L279.5 1426.1L281 1424.83L282.5 1423.99L284 1425.08L285.5 1424.21L287 1422.85L288.5 1421.11L290 1420.22L291.5 1421.17L293 1419.82L294.5 1419.45L296 1419.26L297.5 1415.71L299 1415.06L300.5 1415.39L302 1414.56L303.5 1412.22L305 1411.66L306.5 1410.3L308 1409.32L309.5 1409.11L311 1408.19L312.5 1407.83L314 1406.44L315.5 1405.48L317 1402.28L318.5 1401.31L320 1398.24L321.5 1396.21L323 1395.46L324.5 1396.18L326 1394.17L327.5 1391.18L329 1392.27L330.5 1390.58L332 1387.34L333.5 1385.09L335 1382.98L336.5 1380.37L338 1381.3L339.5 1376.65L341 1373.83L342.5 1371.19L344 1368.12L345.5 1365.35L347 1363.53L348.5 1358.9L350 1355.61L351.5 1353.14L353 1351.47L354.5 1346.16L356 1342.58L357.5 1340.49L359 1335.66L360.5 1333.18L362 1331.42L363.5 1327.38L365 1323.47L366.5 1321.19L368 1314.99L369.5 1309.89L371 1304.79L372.5 1303.36L374 1300.47L375.5 1295.5L377 1294.7L378.5 1290.12L380 1284.85L381.5 1277.71L383 1275.09L384.5 1270.49L386 1262.77L387.5 1260.62L389 1255.85L390.5 1249.41L392 1248.6L393.5 1247.02L395 1240.16L396.5 1232.51L398 1228.93L399.5 1226.4L401 1219.49L402.5 1216.5L404 1212.28L405.5 1208.9L407 1206.35L408.5 1197.98L410 1197.18L411.5 1192.11L413 1185.93L414.5 1178.87L416 1176.46L417.5 1168.84L419 1158.6L420.5 1156.48L422 1154.06L423.5 1151.49L425 1149.44L426.5 1147.77L428 1150.29L429.5 1148.29L431 1144.97L432.5 1146.43L434 1146.68L435.5 1141.9L437 1137.54L438.5 1140.32L440 1142.15L441.5 1138.25L443 1139.87L444.5 1142.67L446 1143.86L447.5 1143.62L449 1143.47L450.5 1143.83L452 1145.5L453.5 1150.53L455 1152.29L456.5 1151.15L458 1152.93L459.5 1158.87L461 1161.21L462.5 1160.63L464 1162.86L465.5 1170.66L467 1177.58L468.5 1183.13L470 1187.17L471.5 1188.61L473 1195.82L474.5 1200.76L476 1206.34L477.5 1216.12L479 1217.33L480.5 1221.13L482 1225.16L483.5 1231.41L485 1236.6L486.5 1238.87L488 1243.18L489.5 1246.95L491 1250.79L492.5 1256.91L494 1262.76L495.5 1267.19L497 1271.12L498.5 1274.36L500 1282.56L501.5 1288.78L503 1295.34L504.5 1297.31L506 1300.28L507.5 1304.48L509 1311.16L510.5 1317.15L512 1321.75L513.5 1323.96L515 1329.64L516.5 1336.08L518 1339.24L519.5 1342.44L521 1345.83L522.5 1347.9L524 1351.58L525.5 1356.9L527 1363.2L528.5 1366.57L530 1367.98L531.5 1371.95L533 1375.4L534.5 1379.2L536 1379.87L537.5 1384.48L539 1388.57L540.5 1388.39L542 1393.02L543.5 1397.25L545 1400.63L546.5 1403.64L548 1406.58L549.5 1410.14L551 1413.12L552.5 1414.27L554 1418.94L555.5 1416.13L557 1418.02L558.5 1421.2L560 1420.88L561.5 1421.1L563 1424.83L564.5 1432.62L566 1431.38L567.5 1432.84L569 1442.68L570.5 1443.09L572 1443.93L573.5 1444.55L575 1449.88L576.5 1452.82L578 1458.29" fill="none" stroke="#6e3a14" stroke-width="2.9" stroke-linejoin="round" stroke-linecap="round" clip-path="url(#ce)"/><path d="M87.5 1453.02L89 1452.25L90.5 1451.65L92 1451.2L93.5 1452.38L95 1453.22L96.5 1452.84L98 1452.96L99.5 1453.03L101 1452.53L102.5 1453.6L104 1452.41L105.5 1452.85L107 1453.76L108.5 1452.66L110 1452.39L111.5 1452.17L113 1452.23L114.5 1451.27L116 1451.93L117.5 1453.01L119 1452.46L120.5 1452.13L122 1452.35L123.5 1452.37L125 1452.26L126.5 1452.18L128 1451.34L129.5 1452.03L131 1451.77L132.5 1452.23L134 1451.85L135.5 1451.35L137 1451.57L138.5 1451.38L140 1452.13L141.5 1451.89L143 1451.97L144.5 1451.34L146 1452.25L147.5 1451.73L149 1452.26L150.5 1451.94L152 1451.03L153.5 1451.4L155 1451.19L156.5 1451.65L158 1452.15L159.5 1451.9L161 1451.73L162.5 1450.75L164 1451.19L165.5 1451.46L167 1451.63L168.5 1450.93L170 1451.3L171.5 1451.11L173 1450.1L174.5 1450.26L176 1450.86L177.5 1450.14L179 1450.12L180.5 1451.11L182 1450.93L183.5 1450.58L185 1450.59L186.5 1450.3L188 1450.12L189.5 1450.19L191 1450.7L192.5 1451.03L194 1450.17L195.5 1450.09L197 1449.87L198.5 1449.4L200 1450.09L201.5 1450.32L203 1449.57L204.5 1450.02L206 1449.53L207.5 1450.2L209 1450.12L210.5 1448.9L212 1447.85L213.5 1448.29L215 1447.73L216.5 1447.58L218 1448.21L219.5 1448.89L221 1448.03L222.5 1447.35L224 1446.3L225.5 1446.49L227 1446.18L228.5 1446.85L230 1446.27L231.5 1446.17L233 1445.96L234.5 1445.74L236 1446.09L237.5 1445.56L239 1444.76L240.5 1444.72L242 1444.86L243.5 1444.97L245 1444.16L246.5 1444.26L248 1442.83L249.5 1442.28L251 1441.5L252.5 1442.28L254 1441.03L255.5 1440.7L257 1441.45L258.5 1440.41L260 1439.97L261.5 1440.62L263 1439.91L264.5 1439.98L266 1439.03L267.5 1439.32L269 1439.22L270.5 1438.42L272 1438.77L273.5 1437.04L275 1436.43L276.5 1436.37L278 1436.44L279.5 1435.11L281 1434.4L282.5 1434.56L284 1434.65L285.5 1432.83L287 1431.52L288.5 1431.84L290 1431.86L291.5 1430.57L293 1429.96L294.5 1428.16L296 1428.74L297.5 1428.58L299 1428.3L300.5 1427.53L302 1426.83L303.5 1424.97L305 1424.88L306.5 1422.58L308 1422.57L309.5 1423.38L311 1422.1L312.5 1419.21L314 1419.77L315.5 1418.3L317 1417L318.5 1416.81L320 1416.16L321.5 1415.71L323 1412.39L324.5 1411.7L326 1410.68L327.5 1408.52L329 1409.98L330.5 1409.33L332 1405.82L333.5 1404.62L335 1402.65L336.5 1401.14L338 1398.84L339.5 1397.94L341 1394.88L342.5 1395.03L344 1393.12L345.5 1392.28L347 1386.62L348.5 1385.05L350 1382.24L351.5 1381.22L353 1379.59L354.5 1375.67L356 1372.19L357.5 1369.65L359 1369.57L360.5 1368.59L362 1365.48L363.5 1360.59L365 1355.84L366.5 1352.54L368 1347.59L369.5 1344.24L371 1343.65L372.5 1339.02L374 1335.43L375.5 1331.34L377 1329.44L378.5 1325.33L380 1318.12L381.5 1313.65L383 1309.6L384.5 1308.06L386 1303.66L387.5 1297.63L389 1295.82L390.5 1288.12L392 1280.43L393.5 1274.47L395 1272.33L396.5 1268.23L398 1261.92L399.5 1258.11L401 1254.03L402.5 1247.18L404 1243.29L405.5 1239.46L407 1232.31L408.5 1225.51L410 1222.36L411.5 1219.36L413 1217.47L414.5 1209.37L416 1203.54L417.5 1203.04L419 1199.96L420.5 1195.19L422 1192.51L423.5 1188.25L425 1183.9L426.5 1173.42L428 1164.54L429.5 1160.29L431 1156.74L432.5 1156.74L434 1153.37L435.5 1150.5L437 1151.27L438.5 1148.68L440 1147.87L441.5 1146.15L443 1143.2L444.5 1142.14L446 1141.48L447.5 1139.32L449 1140.58L450.5 1142.87L452 1141.62L453.5 1140.29L455 1145.52L456.5 1141.86L458 1145.14L459.5 1147.84L461 1150.46L462.5 1149.91L464 1154.07L465.5 1157.85L467 1163.23L468.5 1165.48L470 1168.48L471.5 1172.55L473 1178.08L474.5 1179.59L476 1182.09L477.5 1182.84L479 1187.94L480.5 1189.45L482 1196.19L483.5 1198.99L485 1200.59L486.5 1204.18L488 1210.3L489.5 1215.31L491 1219.18L492.5 1224.65L494 1230.24L495.5 1235.67L497 1242.07L498.5 1248.98L500 1256.07L501.5 1260L503 1263.24L504.5 1270.43L506 1273.54L507.5 1274.86L509 1279.44L510.5 1281.49L512 1285.43L513.5 1291.39L515 1299.84L516.5 1303.62L518 1308.45L519.5 1313.32L521 1318.11L522.5 1324.32L524 1329.7L525.5 1334.48L527 1334.25L528.5 1339.67L530 1340.77L531.5 1339.78L533 1346.81L534.5 1352.16L536 1354.96L537.5 1358.51L539 1363.93L540.5 1367.26L542 1375.88L543.5 1379.47L545 1380.52L546.5 1384.66L548 1387.04L549.5 1393.71L551 1389.36L552.5 1389.57L554 1389.38L555.5 1395.07L557 1399.14L558.5 1400.81L560 1401.77L561.5 1406.76L563 1408.14L564.5 1411.22L566 1408.81L567.5 1405.92L569 1410.58L570.5 1411.95L572 1417.74L573.5 1417.03L575 1419.63L576.5 1422.14L578 1421.69L579.5 1428.23L581 1435.56L582.5 1437.24L584 1442.94L585.5 1449.64L587 1456.63" fill="none" stroke="#a25a22" stroke-width="2.9" stroke-linejoin="round" stroke-linecap="round" clip-path="url(#ce)"/><path d="M87.5 1451.41L89 1449.33L90.5 1450.63L92 1450.59L93.5 1450.89L95 1450.53L96.5 1450.83L98 1449.79L99.5 1449.23L101 1449.59L102.5 1449.37L104 1448.75L105.5 1448.67L107 1449.05L108.5 1448.85L110 1448L111.5 1447.57L113 1447L114.5 1448.45L116 1447.8L117.5 1448.19L119 1447.87L120.5 1448.44L122 1448.06L123.5 1447.25L125 1447.31L126.5 1446.09L128 1446.59L129.5 1445.26L131 1445.94L132.5 1446.34L134 1445.66L135.5 1444.94L137 1444.46L138.5 1444.7L140 1445.45L141.5 1445.21L143 1444.13L144.5 1443.42L146 1444.05L147.5 1442.88L149 1442.97L150.5 1442.99L152 1443.68L153.5 1443.41L155 1443.28L156.5 1442.87L158 1442.2L159.5 1442.83L161 1443.21L162.5 1442.28L164 1442.24L165.5 1441.81L167 1442.26L168.5 1442.04L170 1441.88L171.5 1441.56L173 1441.9L174.5 1440.52L176 1440.02L177.5 1439.84L179 1440.28L180.5 1439.4L182 1439.21L183.5 1440.06L185 1440.3L186.5 1439.25L188 1436.89L189.5 1437.41L191 1437.37L192.5 1437.17L194 1437.86L195.5 1439.07L197 1437.58L198.5 1436.94L200 1437.61L201.5 1437.16L203 1436.74L204.5 1436.02L206 1436.24L207.5 1436.06L209 1434.17L210.5 1434.2L212 1436L213.5 1435.79L215 1434.38L216.5 1433.63L218 1433.76L219.5 1432.99L221 1433.53L222.5 1434.7L224 1433.74L225.5 1433.78L227 1432.67L228.5 1432.78L230 1432.92L231.5 1430.79L233 1430.84L234.5 1430.93L236 1431.22L237.5 1431.86L239 1430.68L240.5 1428.64L242 1428.82L243.5 1428.18L245 1428.23L246.5 1429.76L248 1427.6L249.5 1427.6L251 1426.94L252.5 1427.62L254 1427.04L255.5 1426.32L257 1425.9L258.5 1426.1L260 1424.13L261.5 1423.39L263 1423.07L264.5 1424.34L266 1422.71L267.5 1421.32L269 1421.71L270.5 1423.33L272 1421.13L273.5 1420.78L275 1419.87L276.5 1418.54L278 1417.19L279.5 1416.65L281 1415.59L282.5 1414.05L284 1417.08L285.5 1415.54L287 1413.57L288.5 1412.16L290 1411.06L291.5 1411.55L293 1410.1L294.5 1409.27L296 1407.08L297.5 1407.9L299 1408.53L300.5 1405.91L302 1405.41L303.5 1404.13L305 1404.03L306.5 1402.93L308 1400.61L309.5 1398.71L311 1398.12L312.5 1396.53L314 1394.52L315.5 1393.92L317 1392.12L318.5 1389L320 1388.33L321.5 1389.39L323 1385.43L324.5 1382.44L326 1382L327.5 1376.17L329 1370.47L330.5 1367.72L332 1365.55L333.5 1364.61L335 1361.56L336.5 1354.94L338 1353.88L339.5 1348.36L341 1345.96L342.5 1342.98L344 1339.31L345.5 1335.23L347 1331.41L348.5 1326.5L350 1324.79L351.5 1322.68L353 1319.8L354.5 1318.23L356 1312.82L357.5 1308.48L359 1305.67L360.5 1299.62L362 1292.72L363.5 1288.07L365 1289.14L366.5 1285.39L368 1281.15L369.5 1275.38L371 1272.27L372.5 1270.06L374 1263.05L375.5 1255.78L377 1252.5L378.5 1250.41L380 1241.8L381.5 1233.97L383 1229.92L384.5 1228.31L386 1228.18L387.5 1223.6L389 1218.01L390.5 1213.79L392 1212.48L393.5 1209.62L395 1206.01L396.5 1203.32L398 1200.62L399.5 1200.63L401 1191.9L402.5 1191.38L404 1187.76L405.5 1186.83L407 1182.43L408.5 1179.36L410 1175.17L411.5 1170.09L413 1166.07L414.5 1159.22L416 1159.32L417.5 1155.46L419 1154.09L420.5 1154.2L422 1152.14L423.5 1150.05L425 1140.82L426.5 1140.76L428 1142.72L429.5 1138.4L431 1139.29L432.5 1142.77L434 1141.18L435.5 1137.98L437 1140.58L438.5 1141.89L440 1141.37L441.5 1141.98L443 1143.42L444.5 1142.99L446 1147.19L447.5 1148.38L449 1152.91L450.5 1155.51L452 1156.37L453.5 1161.88L455 1165.39L456.5 1168.69L458 1173.72L459.5 1176.39L461 1180.69L462.5 1185.99L464 1191.09L465.5 1196.64L467 1196.14L468.5 1202.61L470 1205.49L471.5 1212.33L473 1218.66L474.5 1223.35L476 1229.22L477.5 1231.81L479 1231.39L480.5 1238.7L482 1248.54L483.5 1253.65L485 1255.29L486.5 1258.12L488 1267.02L489.5 1267.15L491 1274.6L492.5 1279.97L494 1284.65L495.5 1287.53L497 1293.41L498.5 1299.99L500 1302.3L501.5 1305.32L503 1311.41L504.5 1316.15L506 1319.86L507.5 1323.49L509 1329.26L510.5 1332.72L512 1335.83L513.5 1341.69L515 1346.14L516.5 1350.09L518 1352.39L519.5 1358.03L521 1364.57L522.5 1369.81L524 1373.18L525.5 1376.43L527 1380.35L528.5 1384.04L530 1387.61L531.5 1388.06L533 1388.69L534.5 1391.48L536 1390.71L537.5 1395.33L539 1397.68L540.5 1400.82L542 1404.09L543.5 1405.09L545 1404.58L546.5 1408.06L548 1410.12L549.5 1413.92L551 1416.76L552.5 1417.21L554 1423.08L555.5 1427.08L557 1427.1L558.5 1430.55L560 1429.49L561.5 1434.58L563 1440.56L564.5 1438.73L566 1443.42L567.5 1447.39L569 1455.17L570.5 1458.1L572 1457.11" fill="none" stroke="#cc7028" stroke-width="2.9" stroke-linejoin="round" stroke-linecap="round" clip-path="url(#ce)"/><path d="M87.5 1451.61L89 1452.03L90.5 1451.92L92 1451.91L93.5 1451.99L95 1450.64L96.5 1450.48L98 1450.25L99.5 1450.84L101 1451.37L102.5 1450.95L104 1450.76L105.5 1449.72L107 1450.34L108.5 1450.25L110 1451.37L111.5 1451.14L113 1450.89L114.5 1450.37L116 1450.55L117.5 1450.46L119 1449.84L120.5 1449.61L122 1449.67L123.5 1449.38L125 1449.29L126.5 1449.33L128 1449.23L129.5 1449.65L131 1448.73L132.5 1449.55L134 1448.97L135.5 1448.67L137 1448.3L138.5 1448.79L140 1448.86L141.5 1448.93L143 1448.58L144.5 1448.98L146 1449.79L147.5 1449.01L149 1448.39L150.5 1448.94L152 1448.52L153.5 1448.74L155 1448.64L156.5 1447.81L158 1446.93L159.5 1447.7L161 1448.24L162.5 1447.85L164 1448.22L165.5 1448.38L167 1447.72L168.5 1448.56L170 1448.88L171.5 1448.56L173 1448.48L174.5 1448.53L176 1448.88L177.5 1447.71L179 1447.35L180.5 1447.42L182 1446.44L183.5 1445.87L185 1446.27L186.5 1447.05L188 1446.93L189.5 1445.59L191 1445.23L192.5 1446.06L194 1446.26L195.5 1446.36L197 1446.79L198.5 1446.99L200 1446.39L201.5 1446.14L203 1444.99L204.5 1444.76L206 1445.54L207.5 1445.84L209 1445.76L210.5 1445.53L212 1445.45L213.5 1444.95L215 1443.24L216.5 1443.49L218 1444.2L219.5 1443.93L221 1442.71L222.5 1443.71L224 1442.8L225.5 1442.51L227 1442.68L228.5 1442.49L230 1441.14L231.5 1442.05L233 1441.36L234.5 1440.41L236 1440.03L237.5 1438.68L239 1439.27L240.5 1439.62L242 1438.84L243.5 1438.66L245 1438.53L246.5 1438.5L248 1438.72L249.5 1437.72L251 1437.14L252.5 1437.57L254 1438.09L255.5 1436.29L257 1435.83L258.5 1434.47L260 1435.85L261.5 1435.53L263 1435.31L264.5 1433.79L266 1432.69L267.5 1433.57L269 1433.06L270.5 1431.18L272 1430.24L273.5 1431.05L275 1430.83L276.5 1431.87L278 1429.17L279.5 1428.16L281 1427.63L282.5 1425.91L284 1426.09L285.5 1427.39L287 1425.58L288.5 1424.03L290 1422.99L291.5 1423.76L293 1423.37L294.5 1422.15L296 1420.85L297.5 1420.56L299 1419.73L300.5 1418.18L302 1417.73L303.5 1414.7L305 1414.15L306.5 1414.29L308 1413.44L309.5 1411.73L311 1412.01L312.5 1411.79L314 1410.16L315.5 1408.75L317 1408L318.5 1406.11L320 1403.36L321.5 1402.97L323 1402.8L324.5 1399.47L326 1398.62L327.5 1396.8L329 1394.5L330.5 1392.73L332 1392.02L333.5 1390.47L335 1387.94L336.5 1384.01L338 1382.76L339.5 1381.62L341 1380.11L342.5 1377.7L344 1375.66L345.5 1373.77L347 1370.93L348.5 1366.92L350 1365.17L351.5 1361.75L353 1357.3L354.5 1356.32L356 1357.91L357.5 1351.79L359 1346.98L360.5 1346.3L362 1345.7L363.5 1340.6L365 1336.58L366.5 1331.63L368 1327.7L369.5 1325L371 1319.82L372.5 1313.95L374 1310.39L375.5 1305.77L377 1299.24L378.5 1294.82L380 1289.99L381.5 1284.61L383 1282.28L384.5 1276.11L386 1269.97L387.5 1263.59L389 1260.22L390.5 1259.42L392 1251.87L393.5 1248.67L395 1243.63L396.5 1240.38L398 1235.91L399.5 1229.35L401 1225.56L402.5 1222.31L404 1218.51L405.5 1214.49L407 1210.8L408.5 1209.32L410 1207.33L411.5 1202.3L413 1196.58L414.5 1194.39L416 1190.45L417.5 1187.37L419 1184.66L420.5 1175.3L422 1167.37L423.5 1160.33L425 1157.1L426.5 1154.2L428 1154.78L429.5 1150.17L431 1146.87L432.5 1148.61L434 1142.83L435.5 1144.82L437 1144.95L438.5 1142.96L440 1140.44L441.5 1139.65L443 1139.23L444.5 1139.55L446 1134.1L447.5 1136.52L449 1138.68L450.5 1138.21L452 1137.97L453.5 1145.46L455 1153.14L456.5 1161.38L458 1166.9L459.5 1167.65L461 1167.58L462.5 1173.23L464 1176.43L465.5 1182.68L467 1187.62L468.5 1188.98L470 1194.28L471.5 1196.49L473 1197.02L474.5 1197.22L476 1201.13L477.5 1203.02L479 1210.19L480.5 1213.81L482 1219.31L483.5 1221.09L485 1221.93L486.5 1230.15L488 1236.37L489.5 1241.34L491 1241.78L492.5 1246.12L494 1252.4L495.5 1255.88L497 1260.3L498.5 1267.47L500 1278.65L501.5 1281.28L503 1286.56L504.5 1293.97L506 1301.09L507.5 1307.87L509 1311.76L510.5 1314.78L512 1317.02L513.5 1319.97L515 1321.97L516.5 1325.25L518 1333.33L519.5 1335.84L521 1341.44L522.5 1344.71L524 1348.97L525.5 1352.45L527 1354.53L528.5 1359.69L530 1364.31L531.5 1368.29L533 1371.21L534.5 1374.85L536 1376.77L537.5 1378.28L539 1378.09L540.5 1383.9L542 1391.05L543.5 1392.41L545 1395.68L546.5 1396.56L548 1399.16L549.5 1406.76L551 1407.43L552.5 1411.17L554 1411.52L555.5 1410.5L557 1409L558.5 1415.25L560 1414.72L561.5 1416.91L563 1428.24L564.5 1432.46L566 1435.63L567.5 1438.17L569 1442.14L570.5 1447.35L572 1450.94L573.5 1454.87L575 1459.97" fill="none" stroke="#e0a050" stroke-width="2.9" stroke-linejoin="round" stroke-linecap="round" clip-path="url(#ce)"/><path d="M87.8 1446.5L89.3 1447.06L90.8 1446.67L92.3 1445.34L93.8 1444.94L95.3 1444.7L96.8 1445.01L98.3 1444.59L99.8 1444.38L101.3 1442.98L102.8 1444.32L104.3 1443.52L105.8 1443.38L107.3 1442.6L108.8 1442.12L110.3 1442.39L111.8 1442.29L113.3 1441.32L114.8 1440.99L116.3 1441.01L117.8 1439.61L119.3 1438.86L120.8 1439.6L122.3 1438.58L123.8 1437.33L125.3 1437.62L126.8 1437.56L128.3 1436.66L129.8 1436.19L131.3 1437.03L132.8 1437.35L134.3 1436.18L135.8 1435.41L137.3 1435.84L138.8 1435.72L140.3 1434.75L141.8 1434.91L143.3 1434.83L144.8 1433.45L146.3 1432.55L147.8 1432.93L149.3 1432.76L150.8 1432.57L152.3 1430.46L153.8 1430.04L155.3 1429.35L156.8 1428.4L158.3 1429.31L159.8 1429.22L161.3 1428.08L162.8 1428.98L164.3 1428.3L165.8 1427.44L167.3 1426.76L168.8 1426.2L170.3 1424.13L171.8 1424.81L173.3 1424.15L174.8 1421.9L176.3 1422.63L177.8 1422.13L179.3 1422.14L180.8 1420.77L182.3 1420.43L183.8 1420.06L185.3 1418.78L186.8 1419.23L188.3 1418.48L189.8 1418.19L191.3 1417.21L192.8 1417.93L194.3 1417.2L195.8 1416.1L197.3 1416.41L198.8 1416.88L200.3 1416.45L201.8 1413.52L203.3 1414.75L204.8 1414.42L206.3 1413.31L207.8 1412.5L209.3 1413.68L210.8 1411.84L212.3 1412.96L213.8 1413.19L215.3 1410.56L216.8 1410.74L218.3 1410.09L219.8 1411.38L221.3 1412.78L222.8 1412.46L224.3 1408.82L225.8 1409.16L227.3 1410.52L228.8 1411.07L230.3 1409.5L231.8 1407.94L233.3 1408.25L234.8 1407.68L236.3 1406.86L237.8 1406.05L239.3 1406.54L240.8 1406.09L242.3 1405.1L243.8 1404.09L245.3 1402.58L246.8 1402.93L248.3 1403.92L249.8 1401.96L251.3 1400.33L252.8 1402.09L254.3 1401.56L255.8 1401.9L257.3 1399.3L258.8 1397.36L260.3 1396.11L261.8 1398.39L263.3 1398.86L264.8 1394.8L266.3 1393.68L267.8 1393.87L269.3 1391.83L270.8 1391.16L272.3 1390.38L273.8 1390.22L275.3 1390.14L276.8 1388.44L278.3 1387.96L279.8 1385.97L281.3 1385.06L282.8 1381.8L284.3 1381.74L285.8 1383.38L287.3 1381.86L288.8 1382.09L290.3 1381.74L291.8 1381.69L293.3 1380.48L294.8 1379.39L296.3 1376.99L297.8 1374.99L299.3 1373.81L300.8 1372.83L302.3 1371.11L303.8 1370.53L305.3 1369.99L306.8 1368.95L308.3 1366.35L309.8 1362.92L311.3 1362.74L312.8 1361.47L314.3 1359.98L315.8 1356.64L317.3 1352.3L318.8 1350.13L320.3 1351.07L321.8 1348.35L323.3 1347.38L324.8 1344.99L326.3 1338.92L327.8 1337L329.3 1334.6L330.8 1331.73L332.3 1328.48L333.8 1324.71L335.3 1320.67L336.8 1315.18L338.3 1312.89L339.8 1309.15L341.3 1306.46L342.8 1302.57L344.3 1300.47L345.8 1297.37L347.3 1293.08L348.8 1289.32L350.3 1285.32L351.8 1281.05L353.3 1277.77L354.8 1274.18L356.3 1271.9L357.8 1268.33L359.3 1264.98L360.8 1259.31L362.3 1258.24L363.8 1252.78L365.3 1248.92L366.8 1246.22L368.3 1242.61L369.8 1240.15L371.3 1235.31L372.8 1230.73L374.3 1228.3L375.8 1228.31L377.3 1223.01L378.8 1217.41L380.3 1215.08L381.8 1210.63L383.3 1211.48L384.8 1204.16L386.3 1203.23L387.8 1200.04L389.3 1193.73L390.8 1193.17L392.3 1191.68L393.8 1187.59L395.3 1183.97L396.8 1181.59L398.3 1177.13L399.8 1173.64L401.3 1169.83L402.8 1167.21L404.3 1161.99L405.8 1161.02L407.3 1155.6L408.8 1151.17L410.3 1151.3L411.8 1151.63L413.3 1148.09L414.8 1143.69L416.3 1143.56L417.8 1140.69L419.3 1139.96L420.8 1138.71L422.3 1134.31L423.8 1137.45L425.3 1136.34L426.8 1136.69L428.3 1136.04L429.8 1136.76L431.3 1139.7L432.8 1145.22L434.3 1148.52L435.8 1147.69L437.3 1150.43L438.8 1149.44L440.3 1148.63L441.8 1154.6L443.3 1158.45L444.8 1160.45L446.3 1165.44L447.8 1169.85L449.3 1171.33L450.8 1174.55L452.3 1181.11L453.8 1185.79L455.3 1190.24L456.8 1197.19L458.3 1202.47L459.8 1203.52L461.3 1209.21L462.8 1214.47L464.3 1218.88L465.8 1223.55L467.3 1226.35L468.8 1233.16L470.3 1240.26L471.8 1242.98L473.3 1245.44L474.8 1252.25L476.3 1258.56L477.8 1262.07L479.3 1266.06L480.8 1273.22L482.3 1274.92L483.8 1281.29L485.3 1285.15L486.8 1288.29L488.3 1295.62L489.8 1298.78L491.3 1301.01L492.8 1307.21L494.3 1310.29L495.8 1312.75L497.3 1318.79L498.8 1324.75L500.3 1329.05L501.8 1331.62L503.3 1334.25L504.8 1337.18L506.3 1339.22L507.8 1343.02L509.3 1344.55L510.8 1347.18L512.3 1350.03L513.8 1351.46L515.3 1356.15L516.8 1363.29L518.3 1366.91L519.8 1370.51L521.3 1374.89L522.8 1377.57L524.3 1381.17L525.8 1383.31L527.3 1386.55L528.8 1387.69L530.3 1393.35L531.8 1393.63L533.3 1394.17L534.8 1398.29L536.3 1401.03L537.8 1403.56L539.3 1404.11L540.8 1409.59L542.3 1416.23L543.8 1411L545.3 1413.8L546.8 1415.48L548.3 1417.51L549.8 1416.19L551.3 1419.84L552.8 1426.04L554.3 1429.45L555.8 1434.97L557.3 1434.37L558.8 1440.04L560.3 1448.52L561.8 1445.26L563.3 1447.58L564.8 1453.85L566 1457.89" fill="none" stroke="#e0c070" stroke-width="2.9" stroke-linejoin="round" stroke-linecap="round" clip-path="url(#ce)"/><rect x="87.2" y="1074.6" width="511" height="380.1" fill="none" stroke="#000" stroke-width="2.6"/><text x="86.8" y="1483.6" font-size="26.3" text-anchor="middle" fill="#000">650</text><text x="214.65" y="1483.6" font-size="26.3" text-anchor="middle" fill="#000">700</text><text x="342.5" y="1483.6" font-size="26.3" text-anchor="middle" fill="#000">750</text><text x="470.35" y="1483.6" font-size="26.3" text-anchor="middle" fill="#000">800</text><text x="598.2" y="1483.6" font-size="26.3" text-anchor="middle" fill="#000">850</text><text x="342.5" y="1525.6" font-size="26.8" text-anchor="middle" fill="#000">Wavelength (nm)</text><text x="61.3" y="1263.1" font-size="26.8" text-anchor="middle" transform="rotate(-90 61.3 1263.1)" fill="#000">Norm. PL Intenisty (a.u.)</text><line x1="101" y1="1095.2" x2="161.8" y2="1095.2" stroke="#3c1c0c" stroke-width="2.2" stroke-linecap="round"/><text x="168" y="1104.5" font-size="26.8" text-anchor="start" fill="#000">0 &#176;C</text><line x1="101" y1="1127.9" x2="161.8" y2="1127.9" stroke="#6e3a14" stroke-width="2.2" stroke-linecap="round"/><text x="168" y="1137.2" font-size="26.8" text-anchor="start" fill="#000">4 &#176;C</text><line x1="101" y1="1160.6" x2="161.8" y2="1160.6" stroke="#a25a22" stroke-width="2.2" stroke-linecap="round"/><text x="168" y="1169.9" font-size="26.8" text-anchor="start" fill="#000">8 &#176;C</text><line x1="101" y1="1193.3" x2="161.8" y2="1193.3" stroke="#cc7028" stroke-width="2.2" stroke-linecap="round"/><text x="168" y="1202.6" font-size="26.8" text-anchor="start" fill="#000">12 &#176;C</text><line x1="101" y1="1226" x2="161.8" y2="1226" stroke="#e0a050" stroke-width="2.2" stroke-linecap="round"/><text x="168" y="1235.3" font-size="26.8" text-anchor="start" fill="#000">16 &#176;C</text><line x1="101" y1="1258.7" x2="161.8" y2="1258.7" stroke="#e0c070" stroke-width="2.2" stroke-linecap="round"/><text x="168" y="1268" font-size="26.8" text-anchor="start" fill="#000">20 &#176;C</text><rect x="784.75" y="1142.25" width="61.4" height="33.3" rx="1" fill="url(#h12)" stroke="#4a2410" stroke-width="2.7" stroke-linejoin="round"/><line x1="784.75" y1="1151.4" x2="846.15" y2="1151.4" stroke="#4a2410" stroke-width="2.2" stroke-linecap="butt"/><rect x="862.75" y="1195.75" width="61.8" height="19.8" rx="1" fill="url(#h13)" stroke="#7e4216" stroke-width="2.7" stroke-linejoin="round"/><line x1="862.75" y1="1199.6" x2="924.55" y2="1199.6" stroke="#7e4216" stroke-width="2.2" stroke-linecap="butt"/><rect x="940.95" y="1235.15" width="61.4" height="12.1" rx="1" fill="url(#h14)" stroke="#b86a28" stroke-width="2.7" stroke-linejoin="round"/><line x1="940.95" y1="1241.3" x2="1002.35" y2="1241.3" stroke="#b86a28" stroke-width="2.2" stroke-linecap="butt"/><rect x="1018.75" y="1249.35" width="62.1" height="12.5" rx="1" fill="url(#h15)" stroke="#e07828" stroke-width="2.7" stroke-linejoin="round"/><line x1="1018.75" y1="1261" x2="1080.85" y2="1261" stroke="#e07828" stroke-width="2.2" stroke-linecap="butt"/><rect x="1097.25" y="1253.85" width="62.1" height="25.6" rx="1" fill="url(#h16)" stroke="#e8a050" stroke-width="2.7" stroke-linejoin="round"/><line x1="1097.25" y1="1277.4" x2="1159.35" y2="1277.4" stroke="#e8a050" stroke-width="2.2" stroke-linecap="butt"/><rect x="1175.75" y="1275.85" width="61.7" height="25.4" rx="1" fill="url(#h17)" stroke="#e8c870" stroke-width="2.7" stroke-linejoin="round"/><line x1="1175.75" y1="1291.1" x2="1237.45" y2="1291.1" stroke="#e8c870" stroke-width="2.2" stroke-linecap="butt"/><rect x="776.4" y="1073.6" width="469.2" height="380.6" fill="none" stroke="#000" stroke-width="2.6"/><line x1="776.4" y1="1415.95" x2="779.9" y2="1415.95" stroke="#000" stroke-width="2.2" stroke-linecap="butt"/><line x1="776.4" y1="1377.9" x2="782.9" y2="1377.9" stroke="#000" stroke-width="2.2" stroke-linecap="butt"/><line x1="776.4" y1="1339.85" x2="779.9" y2="1339.85" stroke="#000" stroke-width="2.2" stroke-linecap="butt"/><line x1="776.4" y1="1301.8" x2="782.9" y2="1301.8" stroke="#000" stroke-width="2.2" stroke-linecap="butt"/><line x1="776.4" y1="1263.75" x2="779.9" y2="1263.75" stroke="#000" stroke-width="2.2" stroke-linecap="butt"/><line x1="776.4" y1="1225.7" x2="782.9" y2="1225.7" stroke="#000" stroke-width="2.2" stroke-linecap="butt"/><line x1="776.4" y1="1187.65" x2="779.9" y2="1187.65" stroke="#000" stroke-width="2.2" stroke-linecap="butt"/><line x1="776.4" y1="1149.6" x2="782.9" y2="1149.6" stroke="#000" stroke-width="2.2" stroke-linecap="butt"/><line x1="776.4" y1="1111.55" x2="779.9" y2="1111.55" stroke="#000" stroke-width="2.2" stroke-linecap="butt"/><text x="769.2" y="1462.4" font-size="26.3" text-anchor="end" fill="#000">0</text><text x="769.2" y="1386.3" font-size="26.3" text-anchor="end" fill="#000">10</text><text x="769.2" y="1310.2" font-size="26.3" text-anchor="end" fill="#000">20</text><text x="769.2" y="1234.1" font-size="26.3" text-anchor="end" fill="#000">30</text><text x="769.2" y="1158" font-size="26.3" text-anchor="end" fill="#000">40</text><text x="769.2" y="1081.9" font-size="26.3" text-anchor="end" fill="#000">50</text><line x1="815.4" y1="1454.2" x2="815.4" y2="1447.7" stroke="#000" stroke-width="2.2" stroke-linecap="butt"/><text x="815.4" y="1482.4" font-size="26.3" text-anchor="middle" fill="#000">0</text><line x1="893.58" y1="1454.2" x2="893.58" y2="1447.7" stroke="#000" stroke-width="2.2" stroke-linecap="butt"/><text x="893.58" y="1482.4" font-size="26.3" text-anchor="middle" fill="#000">4</text><line x1="971.76" y1="1454.2" x2="971.76" y2="1447.7" stroke="#000" stroke-width="2.2" stroke-linecap="butt"/><text x="971.76" y="1482.4" font-size="26.3" text-anchor="middle" fill="#000">8</text><line x1="1049.94" y1="1454.2" x2="1049.94" y2="1447.7" stroke="#000" stroke-width="2.2" stroke-linecap="butt"/><text x="1049.94" y="1482.4" font-size="26.3" text-anchor="middle" fill="#000">12</text><line x1="1128.12" y1="1454.2" x2="1128.12" y2="1447.7" stroke="#000" stroke-width="2.2" stroke-linecap="butt"/><text x="1128.12" y="1482.4" font-size="26.3" text-anchor="middle" fill="#000">16</text><line x1="1206.3" y1="1454.2" x2="1206.3" y2="1447.7" stroke="#000" stroke-width="2.2" stroke-linecap="butt"/><text x="1206.3" y="1482.4" font-size="26.3" text-anchor="middle" fill="#000">20</text><text x="1006.5" y="1526.9" font-size="26.2" text-anchor="middle" fill="#000">Injection temperature (&#176;C)</text><text x="710.1" y="1251.2" font-size="26.8" text-anchor="middle" transform="rotate(-90 710.1 1251.2)" fill="#000">PLQY (%)</text></svg></body></html>
